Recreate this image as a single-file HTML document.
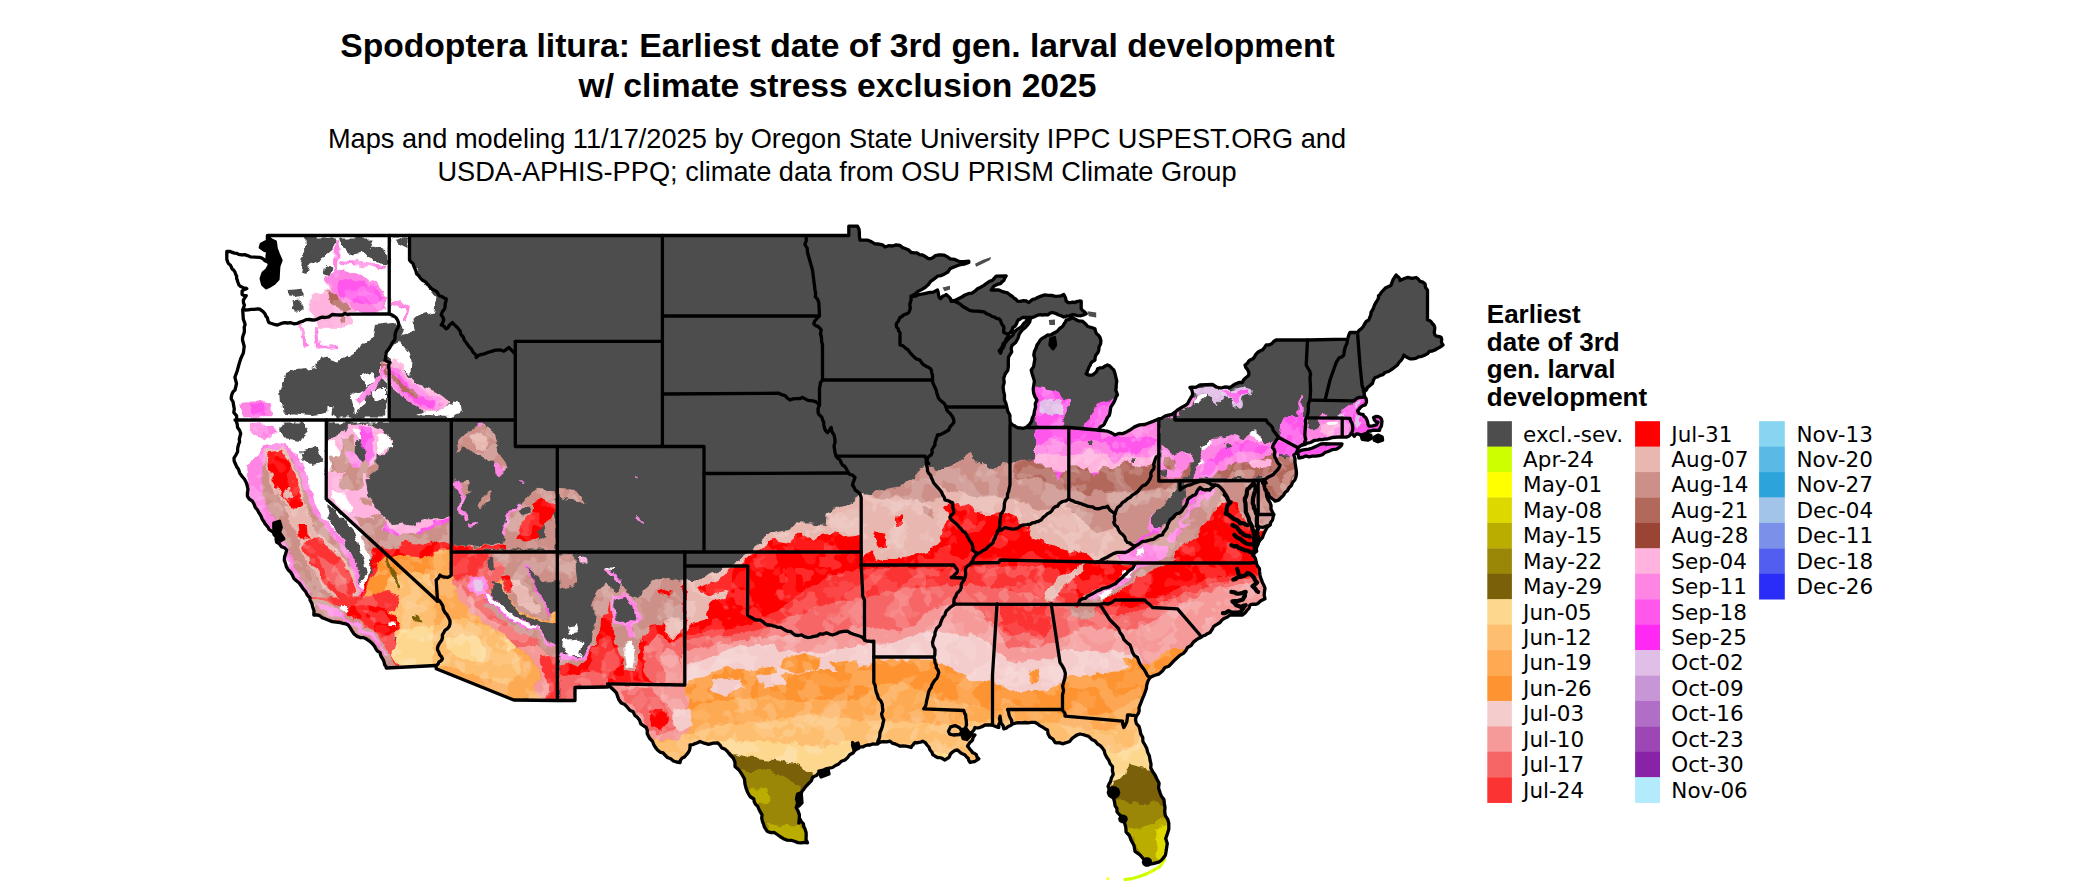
<!DOCTYPE html>
<html><head><meta charset="utf-8"><title>Spodoptera litura map</title>
<style>
html,body{margin:0;padding:0;background:#fff}
svg{display:block}
.t{font-family:"Liberation Sans",sans-serif;font-weight:bold;font-size:33.65px;text-anchor:middle;fill:#000}
.s{font-family:"Liberation Sans",sans-serif;font-size:27.19px;text-anchor:middle;fill:#000}
.lt{font-family:"Liberation Sans",sans-serif;font-weight:bold;font-size:26px;fill:#000}
.ll{font-family:"DejaVu Sans","Liberation Sans",sans-serif;font-size:21.5px;fill:#000}
.b{fill:none;stroke:#000;stroke-width:3.3;stroke-linejoin:round;stroke-linecap:round}
</style></head><body>
<svg width="2100" height="892" viewBox="0 0 2100 892">
<rect width="2100" height="892" fill="#fff"/>
<text class="t" x="837.5" y="56.6">Spodoptera litura: Earliest date of 3rd gen. larval development</text>
<text class="t" x="837.5" y="96.9">w/ climate stress exclusion 2025</text>
<text class="s" x="837" y="148.2">Maps and modeling 11/17/2025 by Oregon State University IPPC USPEST.ORG and</text>
<text class="s" x="837" y="180.7">USDA-APHIS-PPQ; climate data from OSU PRISM Climate Group</text>

<defs>
<clipPath id="us"><path d="M267.5 235.5 L848.8 235.5 L848.8 226.2 L857.5 226.2 L859.1 229.4 L859.4 233 L859.4 236.5 L860 240 L864 240.2 L867.9 240.2 L871.6 241.8 L875 243.8 L877.7 244 L880.4 244.3 L883 245.1 L885 247 L888.6 245.7 L892.5 246 L896.2 244.9 L900 245.5 L902.6 247.6 L905.7 248.8 L908.8 250.1 L911.2 252.5 L914.1 252.9 L917 252.9 L919.5 254.6 L922.5 255 L924.4 255.9 L926.2 257.1 L927.9 258.4 L930 258.8 L932.9 257.7 L935.2 255.6 L938.1 255 L941.2 255 L943.7 255.1 L946 256.1 L948.1 257.2 L950 258.8 L954.8 259.4 L959.2 261.5 L964 261.6 L968.8 261.2 L968.8 262.5 L964.1 264.1 L959.2 265 L954.5 266.8 L950 268.8 L947.9 272 L944.6 273.9 L941.2 275.6 L937.5 276.2 L934.2 278.9 L930.7 281.3 L928.2 284.7 L925 287.5 L921.5 289.6 L917.9 291.5 L914.8 294.2 L911.2 296.2 L913.5 296.3 L915.7 296 L917.8 295 L920 294.5 L924.4 293.6 L928.8 292.6 L933.4 292.1 L937.5 290 L938.2 292.2 L938.5 294.6 L939 296.9 L940.5 298.8 L941.7 297.4 L942.9 296.1 L944.7 295.5 L946.2 294.5 L947.8 295.9 L949.3 297.4 L950.7 299.1 L951.2 301.2 L955 300.4 L958.4 298.7 L961.8 297 L965 295 L968.3 293.7 L971.9 293.1 L974.9 291.2 L977.5 288.8 L980.8 287.2 L983.9 285.3 L986.9 283.2 L990 281.2 L992 280.6 L993.5 279.2 L994.9 277.7 L996.2 276.2 L1006.2 275.8 L1004.8 278 L1003.8 280.5 L1002 281.9 L1000.5 283.6 L998.3 284.1 L996.2 285 L994.5 285.7 L993.1 286.9 L992.3 288.5 L991.2 290 L998.8 290 L1001.6 291.3 L1004.5 292.2 L1007.6 292.9 L1010 295 L1012.2 296.2 L1013.8 298 L1016 299.2 L1017.5 301.2 L1020.4 301.3 L1023.3 300.6 L1026.2 301 L1028.8 302.5 L1030.7 300.9 L1032.8 299.4 L1035.3 298.9 L1037.5 297.5 L1041.1 296.1 L1044.8 294.9 L1048.6 295.3 L1052.5 295.5 L1055.3 296.3 L1058.2 296.1 L1061.2 295.8 L1063.8 294.5 L1064.7 296.1 L1065.4 297.7 L1065.9 299.4 L1066.2 301.2 L1068.2 302.5 L1070.5 302.7 L1072.7 302.2 L1075 302.5 L1076.4 301.7 L1078 301.3 L1079.6 301 L1081.2 301.2 L1081.2 308.8 L1082.4 310.1 L1083.7 311.3 L1085.1 312.4 L1086.2 313.8 L1083.5 314.9 L1080.8 315.8 L1077.8 315.6 L1075 315 L1072.1 314.7 L1069.4 315.8 L1066.5 316.1 L1063.8 317 L1061.1 315.7 L1058.2 314.7 L1055.4 313.3 L1052.5 312.5 L1049.9 313.2 L1047.8 314.9 L1045.1 314.6 L1042.5 315 L1039.9 314.7 L1037.3 315.3 L1034.9 316.5 L1032.5 317.5 L1022.5 317.5 L1020.4 318.9 L1018.2 320 L1017.1 322.1 L1016.3 324.3 L1014.9 326.3 L1012.8 327.5 L1012.4 329.4 L1011.4 331.1 L1010.2 332.7 L1008.5 333.8 L1007.9 336.7 L1006.2 339 L1005.2 341.8 L1003 343.8 L1002.7 345.8 L1001.7 347.5 L1000.6 349.1 L999.2 350.5 L1000.5 353.2 L1001.2 351.6 L1001.3 349.8 L1002.5 348.6 L1003.5 347.2 L1004.8 343.6 L1006.9 340.5 L1009.5 337.8 L1012.5 335.5 L1014.5 331.8 L1017.7 329.1 L1021.3 326.9 L1023.8 323.5 L1025.1 322.3 L1026.4 321.2 L1026.9 319.6 L1027.5 318 L1030.5 318 L1029.8 321.8 L1027.6 325 L1025 327.8 L1022 330.2 L1019.3 334 L1017.9 338.5 L1015.6 342.5 L1012 345.5 L1011.1 348.6 L1011.7 351.8 L1010.1 354.5 L1008.5 357.2 L1008.3 361.6 L1008.4 365.9 L1007.8 370.3 L1005.2 374 L1003.7 378.1 L1004.2 382.5 L1003.1 386.7 L1003.5 391 L1004.5 395.2 L1004.4 399.6 L1006 403.6 L1007 407.8 L1007.9 411.6 L1009.9 415 L1010 418.9 L1010.2 422.8 L1011.7 423.9 L1012.9 425.3 L1014.7 425.9 L1016.2 427 L1018.6 427.9 L1021.2 428 L1022.9 428.3 L1024.6 427.9 L1026.2 427.3 L1027.5 426.2 L1029.9 423.9 L1031.6 421.1 L1032.3 417.9 L1033.8 415 L1034.4 411.2 L1035.5 407.5 L1035.3 403.6 L1037 400 L1034.9 396.6 L1033.6 392.9 L1033.2 388.9 L1033.8 385 L1034.4 381.1 L1033.3 377.4 L1032.1 373.7 L1031.2 370 L1033.6 366.8 L1034.2 362.8 L1034.9 358.8 L1033.8 355 L1034.4 351.6 L1035.9 348.6 L1036.9 345.3 L1038.8 342.5 L1040.3 340 L1042.6 338.1 L1045.1 336.7 L1047.5 335 L1049.5 335.1 L1051.5 334.5 L1053.2 333.5 L1055 332.5 L1056.8 331.6 L1058.3 330.2 L1059.5 328.6 L1061.2 327.5 L1063 326 L1064 324 L1065.4 322.1 L1066.2 320 L1067.8 319.7 L1069.5 319.4 L1070.9 318.5 L1072.5 318 L1075 319 L1077.3 320.4 L1079.8 321.2 L1082.5 321.2 L1085.3 323.7 L1087.8 326.5 L1091.5 327.5 L1095 328.8 L1095.5 331.4 L1096.5 333.7 L1098.6 335.3 L1100 337.5 L1100.9 340.6 L1100.6 343.9 L1099.1 346.7 L1098.8 350 L1097.9 352.6 L1096.1 354.7 L1095.1 357.3 L1095 360 L1092.9 361.3 L1091 363 L1090.1 365.3 L1088.8 367.5 L1088.4 369.2 L1087.4 370.6 L1087.2 372.4 L1086.2 373.8 L1087.6 374.6 L1089.2 375.2 L1090.9 375.1 L1092.5 375 L1094.1 373.7 L1095.7 372.5 L1097 370.8 L1097.5 368.8 L1100.1 367.9 L1102.8 367.7 L1105 366.1 L1107.5 365 L1109.4 365.8 L1110.9 367.2 L1112.3 368.6 L1113.8 370 L1115 373.6 L1115.9 377.3 L1116.8 381.1 L1116.2 385 L1116.2 387.6 L1115.8 390.1 L1116.7 392.6 L1117.5 395 L1116.1 396.6 L1115.5 398.7 L1114.7 400.6 L1113.8 402.5 L1112.3 404.8 L1110.8 407.1 L1110.4 409.8 L1110 412.5 L1109.3 415.3 L1107.4 417.5 L1106.3 420 L1105 422.5 L1104.3 424.2 L1102.9 425.4 L1101.3 426.2 L1100 427.5 L1099 429 L1097.5 430 L1100 430.6 L1102.5 430.5 L1105 430.9 L1107.5 431.2 L1109.5 432 L1111.4 432.8 L1113.2 433.9 L1115 435 L1118.8 433.5 L1122.9 433.6 L1126.5 431.9 L1130 430 L1134.5 426.9 L1139.5 424.9 L1144.9 424.5 L1150 422.5 L1153.8 421.1 L1157.5 419.4 L1161.5 418.3 L1165 416.2 L1168.4 415.2 L1171.9 414.4 L1174.8 412.4 L1177.5 410 L1180 408.5 L1182.5 406.9 L1185.2 405.6 L1187.5 403.8 L1188.7 401.6 L1189.9 399.3 L1191.2 397.2 L1192.5 395 L1192.5 393 L1192.1 391 L1191.4 389 L1190 387.5 L1192.6 387.1 L1195.3 387.4 L1197.7 386.3 L1200 385 L1212.5 384.5 L1216.4 387 L1220.9 388 L1225.4 386.9 L1230 387.5 L1232.8 385.5 L1235.8 383.8 L1239 382.4 L1242.5 382.5 L1243.4 380.1 L1245.1 378.3 L1247.1 376.8 L1248.8 375 L1248.8 372.2 L1247.6 369.7 L1245.9 367.6 L1245 365 L1246.5 364 L1247.8 362.8 L1248.6 361.2 L1250 360 L1252.6 359 L1254.5 357 L1255.7 354.5 L1257.5 352.5 L1260 351 L1262.7 349.8 L1264.5 347.4 L1266.2 345 L1269.1 344.9 L1271.8 343.8 L1273.7 341.5 L1276.2 340 L1307.5 340 L1347.5 339.2 L1348.1 337.5 L1348.6 335.8 L1349.2 334.1 L1350 332.5 L1357.5 332.5 L1359.1 330.4 L1361.2 328.8 L1363.2 326.6 L1364.6 324 L1366.2 321.5 L1368.8 320 L1369.7 317.5 L1370.8 315.1 L1371 312.3 L1372.5 310 L1373.7 307.5 L1374.6 304.8 L1376 302.4 L1377.5 300 L1378.5 298 L1378.5 295.8 L1380.1 294.4 L1381.2 292.5 L1385.3 288.1 L1390.8 285.6 L1392.9 280 L1396.2 275 L1397.3 276.3 L1398.8 277.3 L1399.6 278.8 L1400 280.5 L1403.8 278.8 L1407.8 277.4 L1412 278.4 L1416.2 277.5 L1418.4 279.2 L1420.1 281.4 L1422.8 282.1 L1425 283.8 L1425.2 285.5 L1425.6 287.2 L1426.4 288.7 L1427.5 290 L1427.5 320 L1429.6 320.5 L1431.2 321.8 L1432.3 323.5 L1433.8 325 L1434.8 327.4 L1434.6 330 L1434.2 332.5 L1435 335 L1436.4 336 L1438 336.5 L1439.7 336.6 L1441.2 337.5 L1441.7 339.4 L1441.4 341.4 L1441.9 343.4 L1443 345 L1441.1 346.5 L1439.1 347.6 L1437 348.7 L1435 350 L1432.3 351 L1429.4 351.4 L1427.6 353.6 L1425 355 L1422 356.3 L1418.7 356.8 L1415.8 358.4 L1412.5 358.8 L1410 358.8 L1407.8 357.7 L1405.6 356.6 L1403.8 355 L1402.7 357.8 L1401.1 360.3 L1399 362.4 L1397.5 365 L1394.6 367.2 L1391.7 369.4 L1388.6 371.5 L1385 372.5 L1383 374.6 L1380.2 375.4 L1377.7 376.8 L1375 377.5 L1373.4 380.3 L1372.5 383.4 L1370 385.4 L1367.5 387.5 L1366.9 388.9 L1366.2 390.2 L1364.9 391.1 L1364.1 392.4 L1364.5 395.9 L1365.1 397.4 L1366.1 398.6 L1366.4 400.2 L1366.5 401.8 L1365.9 403.4 L1365.3 404.9 L1362.7 405.7 L1360.6 407.3 L1359.1 409.1 L1357.5 410.8 L1358.2 412.2 L1359 413.5 L1361 414.1 L1363 414.3 L1363.9 416.2 L1365.7 417.5 L1366.9 419.8 L1367.7 422.2 L1368 424.3 L1368.9 426.1 L1370.8 426.1 L1372.7 425.9 L1374.5 425.3 L1376.3 424.9 L1377 423.5 L1377.9 422.2 L1375.8 421.4 L1374.3 419.8 L1373.6 417.5 L1376.3 416.3 L1378.4 416.6 L1380.2 417.6 L1381.5 419.3 L1382 421.4 L1381.4 426.1 L1380.1 428.1 L1379.4 430.4 L1373.2 430.2 L1370.9 431 L1368.5 431.2 L1367.1 432.8 L1365.3 433.9 L1363.1 435 L1360.6 435.1 L1358.8 434.2 L1356.7 433.9 L1355.3 434.9 L1354.3 436.3 L1352.9 434.6 L1351.2 433.2 L1350.2 434.9 L1348.8 436.3 L1346.9 437 L1344.9 437.1 L1340.2 436.9 L1332.4 437.5 L1330.5 438.1 L1328.5 438.7 L1326.5 439.2 L1324.5 439 L1322.8 439.6 L1321 439.7 L1319.2 439.5 L1317.5 440.2 L1314.6 440.3 L1312 441.8 L1310.5 442.5 L1308.8 442.9 L1307.1 443.1 L1305.7 444.1 L1303.4 444.9 L1301 445.3 L1299.9 446.4 L1298.6 447.3 L1297.5 450 L1297 451.5 L1296.3 453 L1295.1 454 L1293.8 455 L1295 458.7 L1295 462.5 L1295.6 466.3 L1296.2 470 L1296.5 473.4 L1296 476.7 L1294.8 480 L1292.5 482.5 L1291.4 485.5 L1289 487.7 L1287.6 490.6 L1285 492.5 L1283.9 494.7 L1282.3 496.6 L1280.5 498.2 L1278.8 500 L1276.9 500.6 L1275 501.2 L1274 500 L1272.7 499 L1271.5 498.1 L1270 497.5 L1269 495.4 L1268.2 493.3 L1266.5 491.8 L1265 490 L1264.5 488.1 L1264.6 486.2 L1263.8 484.5 L1262.5 483 L1263.7 484.6 L1264.1 486.6 L1264.9 488.5 L1266.2 490 L1266.3 493.3 L1266.8 496.6 L1268.1 499.8 L1270 502.5 L1271.1 505.6 L1270.9 508.8 L1272.3 511.7 L1273.8 514.5 L1273.1 517.2 L1272.5 520 L1270.8 522.3 L1270 525 L1267.1 527.4 L1265.3 530.7 L1263.7 534 L1262.5 537.5 L1260 540.1 L1258.1 543.1 L1256.8 546.5 L1256.2 550 L1254.7 551.2 L1253 552 L1252.5 555 L1254.2 556.4 L1255.3 558.3 L1255.9 560.4 L1256.2 562.5 L1257.3 565.7 L1259.4 568.4 L1259.6 571.7 L1260 575 L1260.6 577.6 L1261.6 580.1 L1262.5 582.7 L1263.8 585 L1265 588.4 L1264.4 591.9 L1264.2 595.4 L1265 598.8 L1263 599.8 L1260.9 600.8 L1259.2 602.3 L1257.5 603.8 L1255.6 604.4 L1253.7 604.1 L1251.8 604.3 L1250 605 L1249.1 608.1 L1246.9 610.5 L1245 613 L1242.5 615 L1230 615 L1227.5 617 L1224.6 618.2 L1222 620 L1220 622.5 L1216.9 624.4 L1213.8 626.3 L1212.1 629.5 L1210 632.5 L1207.4 633.7 L1205 635.3 L1202.3 636.3 L1200 638 L1200 637.5 L1196.6 639.6 L1193.4 642.1 L1191.1 645.5 L1187.5 647.5 L1185.8 650.7 L1183.4 653.4 L1180.2 655.1 L1177.5 657.5 L1174.5 660.2 L1171.8 663.1 L1168.9 666.2 L1165 667.5 L1162.2 671.2 L1158.6 674.2 L1154.2 675.5 L1150 677.5 L1148 681 L1146.8 684.8 L1146.3 688.7 L1145 692.5 L1143.8 695.6 L1142.4 698.7 L1141.3 701.9 L1140 705 L1139 707.9 L1139.2 711 L1138.1 713.8 L1136.2 716.2 L1135.5 719.9 L1136.4 723.6 L1139 726.3 L1140 730 L1140.7 733.9 L1142.7 737.4 L1142.9 741.5 L1145 745 L1146.8 748.6 L1147.7 752.4 L1149.4 756 L1150 760 L1151 764 L1150.8 768.1 L1152.7 771.6 L1155 775 L1157 779.2 L1159.1 783.3 L1158.5 788 L1160 792.5 L1161.4 796.3 L1163.9 799.5 L1164.4 803.5 L1165 807.5 L1164.7 811.6 L1165.3 815.6 L1167.6 819.1 L1168.8 823 L1168.8 829.2 L1167.3 833.9 L1165.7 838.6 L1167.3 843.5 L1166.5 848.5 L1166 851.8 L1165.4 855.2 L1163.4 857.9 L1161.2 860.5 L1158.7 862.2 L1155.8 862.8 L1152.9 863.6 L1150 864 L1148.5 863.4 L1147.2 862.5 L1145.9 860.7 L1144 859.5 L1140 854.9 L1135 851.4 L1134 845.4 L1131 840 L1129.4 835.5 L1126.1 832 L1125.8 827.3 L1124.5 822.8 L1122.9 819.9 L1121.9 816.6 L1119.3 814.5 L1117 812 L1116.9 808.5 L1115 805.6 L1114.6 802.3 L1113.8 799 L1112.9 797.2 L1112.2 795.3 L1111.5 793.5 L1111.2 791.5 L1109.9 790.7 L1109 789.4 L1108.8 787.8 L1108 786.5 L1109 784 L1110.5 781.8 L1111.4 777.9 L1113.2 774.4 L1112.4 770.5 L1112.5 766.5 L1110.1 763.7 L1108.8 760.2 L1106.7 757.2 L1105 754 L1104.3 750.8 L1102.4 748.1 L1100.3 745.7 L1097.5 744 L1095 740.9 L1091.5 739.2 L1088.7 736.4 L1085 735.2 L1082.5 734.5 L1080 734 L1077.4 734.8 L1075 736.2 L1072 738.5 L1069.6 741.5 L1066.1 742.7 L1062.5 743.8 L1060.7 743.1 L1058.8 742.7 L1056.9 742.8 L1055 742.5 L1053 739.2 L1049.8 737.1 L1048 733.8 L1047.5 730 L1044.9 728.7 L1042.5 727 L1039.8 725.6 L1037.5 723.8 L1034.6 722.3 L1031.3 722.4 L1028.2 722.8 L1025 722.5 L1021.9 722.9 L1018.7 722.6 L1015.6 723.1 L1012.5 723.8 L1010.6 725.5 L1008.3 726.5 L1006.2 728.1 L1003.8 728.8 L1003 725.5 L1000.9 722.8 L1000.5 719.5 L1000 716.2 L999.5 719.1 L1000.2 721.9 L998.8 724.5 L998.8 727.5 L997.1 727.2 L995.6 726.3 L994 725.9 L992.5 725 L985 725 L982.7 726.4 L980.3 727.3 L977.7 728 L975 727.5 L974 729.7 L972.4 731.7 L970.5 733.3 L968.8 735 L975 735 L973.2 737.2 L972.5 740 L971.1 741.5 L969.6 742.8 L968.6 744.5 L967.5 746.2 L968.8 747.7 L970 749.4 L971.4 750.8 L972.5 752.5 L974.6 753.5 L976.4 754.9 L977.1 757.2 L978.8 758.8 L976.8 760.1 L974.8 761.5 L972.3 761.8 L970 762.5 L968.8 760.5 L968.2 758.3 L966.4 756.8 L965 755 L962.9 754.1 L960.9 753 L959.2 751.5 L957.5 750 L955.2 750.4 L953.2 751.6 L951.3 753 L950 755 L949.4 756.8 L948.1 758.1 L946.5 758.9 L945 760 L943.2 759 L941.5 758 L939.5 757.6 L937.5 757.5 L935.1 756.2 L932.8 754.7 L931.9 752.1 L930 750 L929 747.2 L927 745 L925.2 742.5 L922.5 741.2 L920.8 742.1 L918.8 742.3 L916.9 742.8 L915 742.5 L913.9 743.6 L913.1 745 L911.8 746 L911.2 747.5 L908.5 746.6 L905.7 746.2 L902.8 745.8 L900 746.2 L897.5 744.9 L894.9 743.8 L892.2 743.1 L890 741.2 L886.8 741.8 L883.6 741.6 L880.3 742 L877.5 743.8 L875 744.2 L872.5 744 L870.1 745 L867.5 745 L865 745.8 L862.7 746.9 L860 746.9 L857.5 747.5 L855.8 746.8 L854.5 745.5 L853.5 744 L852.5 742.5 L853.2 744.4 L853.6 746.3 L854.6 748.1 L855 750 L853 753 L849.7 754.7 L847.6 757.6 L845 760 L841.5 761.2 L838.8 763.9 L835.5 765.5 L832.5 767.5 L829.1 768.2 L825.8 768.8 L823.1 771 L820 772.5 L817.9 773.6 L816.6 775.5 L814.4 776.3 L812.5 777.5 L811.5 780.6 L809.3 782.9 L807.1 785.2 L805 787.5 L803.7 789.3 L802.2 791 L801.3 793.1 L800 795 L798.1 797.8 L797.6 801.1 L797.3 804.4 L796.2 807.5 L798.1 811.1 L799.4 814.9 L799.3 819 L798.8 823 L799.6 821.1 L800 819 L801.3 821.6 L803.3 823.6 L803.8 826.4 L805 829 L806.1 832.4 L806.2 835.9 L806 839.5 L807.5 842.8 L804.3 842.3 L801.2 842.8 L798 842.6 L795 841.5 L791.2 840.3 L787.1 840.1 L783.4 838.7 L780 836.5 L777.2 834.5 L774.3 832.5 L770.8 832.6 L767.5 831.5 L765.8 829.2 L764.3 826.9 L763.6 824.1 L762.5 821.5 L761.7 818.2 L762.1 814.8 L760.3 812 L758.8 809 L757.7 806.3 L755.6 804.4 L754.2 801.8 L753.8 799 L750 796.5 L747.7 792.5 L746.1 788.3 L745 784 L744.4 778.8 L741.8 774.2 L738.9 769.9 L735 766.5 L735 762.1 L733.2 758 L730.1 755 L727.5 751.5 L725 749.1 L721.8 748 L720 745.1 L717.5 742.8 L713 743.2 L708.6 744.3 L704.2 743.2 L700 741.5 L697.6 742.8 L695.1 743.6 L692.7 744.7 L690 745 L690 747.8 L689.4 750.5 L688 752.9 L686.2 755 L684.5 756.9 L682.2 758 L680.6 760 L680 762.5 L676.6 762 L673.4 761 L670.7 758.7 L667.5 757.5 L665.2 755.3 L663.1 752.9 L660 752.1 L657.5 750 L655.4 747.4 L653.7 744.5 L652.5 741.2 L650 738.8 L648.4 736.2 L647.2 733.5 L647.3 730.4 L646.2 727.5 L643.3 725.7 L640.6 723.6 L639.6 720.3 L637.5 717.5 L634.7 715.2 L633.2 711.8 L629.8 710.3 L627.5 707.5 L624.9 704.6 L621.2 703 L618.9 699.8 L617.5 696.2 L616.5 693.1 L614.4 690.7 L612 688.6 L610 686.2 L607.5 687 L575 687.5 L575 700.5 L557 700.5 L513.8 700 L436.2 668.8 L436.2 665.5 L386.2 668 L385.8 666.2 L384.6 664.7 L384.3 662.9 L383.8 661.2 L382.8 659 L381.4 657.1 L380.5 654.9 L380 652.5 L377.4 651.1 L375.7 648.6 L374.4 646 L372.5 643.8 L369.9 641.4 L366.9 639.3 L363.7 637.6 L360 637.5 L356.6 636.1 L353.8 633.7 L351.8 630.6 L350 627.5 L348.2 625.1 L345.6 623.8 L342.8 623.3 L340 622.5 L336.1 622.2 L332.3 621.6 L328.6 620.2 L325 618.8 L322.2 617.7 L319.8 615.7 L316.9 614.9 L313.8 615 L314 611.1 L312.8 607.3 L311.9 603.4 L310 600 L310 597.5 L309.1 597.2 L307 594.5 L305.5 591.4 L303.2 588.9 L301.3 586 L299.2 583 L296.4 580.7 L293.7 578.2 L292.3 574.8 L290.5 572 L288.1 569.7 L286.4 566.8 L285.6 563.6 L284.3 560.3 L284.6 556.7 L285.8 553.4 L286.7 550.1 L284.4 547.7 L281.3 546.6 L279.4 543.9 L276.6 542.2 L276.1 539.5 L276.2 536.8 L274.2 534.8 L273.2 532.2 L271.2 530.9 L269.1 529.5 L268 527.3 L266.5 525.4 L265.1 523.9 L264.2 522.1 L263 520.5 L262 518.7 L260.8 515.7 L259 512.9 L257.5 510 L255.3 507.5 L254.1 504.2 L252.4 501.2 L249.4 499.2 L247.4 496.3 L247.4 492.8 L248 489.5 L247.3 486.1 L246.3 482.8 L244.5 479.3 L242 476.3 L239.7 473.1 L238.5 469.3 L236.7 466.8 L235.5 464 L234.2 461.2 L234 458.1 L235.9 455 L237.6 451.8 L237.7 448.2 L238.5 444.7 L239.6 442 L239.3 439 L240 436.3 L240.7 433.5 L239.6 430.3 L237.6 427.6 L237.2 424.3 L236.2 421.1 L237.5 420 L236.6 418 L236.6 415.8 L235.2 414.2 L233.8 412.5 L234.3 409 L233.6 405.4 L233.1 401.9 L231.2 398.8 L231.4 396.3 L232 393.9 L233.1 391.7 L235 390 L236.5 383.6 L234.9 377.2 L237.1 371.2 L238.8 365 L240.7 358.8 L243.4 352.9 L244.2 346.4 L242.5 340 L242.6 337.4 L243.3 335 L244.2 332.6 L244.4 330 L244.2 327.2 L245.1 324.5 L244.3 321.8 L243.3 319.2 L242.7 309.8 L243.7 307.5 L244.4 305.1 L243.5 302.8 L243.3 300.4 L244.6 298 L246.2 295.7 L244 295.5 L242.1 294.5 L242.1 291 L244.3 289.4 L246.8 288.6 L245.1 288.1 L243.4 287.8 L241.9 286.9 L240.3 286.2 L239 285.1 L238.4 283.5 L237.8 282 L237.4 280.4 L236.6 278.3 L236.6 276.1 L235.6 274.2 L235 272.1 L233.8 270.3 L232.1 268.9 L231.3 266.9 L230.3 265 L228.8 264 L227.9 262.5 L227.3 260.9 L226.8 259.2 L226.8 251.5 L230.3 251.5 L232.3 252.4 L234.4 253.1 L236.6 253.3 L238.6 254.4 L241.6 254.8 L244.7 254.6 L247.5 255.6 L250.3 256.8 L259.8 257.4 L261.7 258 L263.5 259.1 L264.9 260.7 L266.8 261.5 L267 258.6 L267.1 255.7 L267.6 252.8 L268.5 250 L268.7 246.3 L267.6 242.8 L268.5 239.2 L267.4 235.6Z M1297.5 452.5 L1300.9 450.4 L1304.8 449.6 L1308.7 449.1 L1312.5 448 L1316.7 446.1 L1320.8 444 L1325.4 443.6 L1330 443.8 L1342 443.8 L1341.3 445.5 L1340 446.8 L1336.6 449.1 L1332.5 449.6 L1328.8 451.2 L1325 452.5 L1322.4 454.7 L1319.2 455.7 L1315.8 456.1 L1312.5 456.2 L1309 456.8 L1305.5 455.9 L1302.3 457.4 L1298.8 458 L1298.3 455.2Z"/></clipPath>
<filter id="r" x="150" y="200" width="1350" height="692" filterUnits="userSpaceOnUse" color-interpolation-filters="sRGB"><feTurbulence type="fractalNoise" baseFrequency="0.09" numOctaves="3" seed="4" result="n"/><feDisplacementMap in="SourceGraphic" in2="n" scale="9" xChannelSelector="R" yChannelSelector="G"/></filter>
<filter id="rm" x="150" y="200" width="1350" height="692" filterUnits="userSpaceOnUse" color-interpolation-filters="sRGB"><feTurbulence type="fractalNoise" baseFrequency="0.09" numOctaves="3" seed="4" result="n"/><feDisplacementMap in="SourceGraphic" in2="n" scale="9" xChannelSelector="R" yChannelSelector="G" result="d"/>
<feTurbulence type="fractalNoise" baseFrequency="0.045" numOctaves="3" seed="21" result="n2"/>
<feColorMatrix in="n2" type="matrix" values="0 0 0 0 1  0 0 0 0 1  0 0 0 0 1  30 0 0 0 -16.2" result="m1"/>
<feComponentTransfer in="m1" result="m2"><feFuncA type="linear" slope="0.17"/></feComponentTransfer>
<feComposite in="m2" in2="d" operator="in" result="ov"/>
<feColorMatrix in="n2" type="matrix" values="0 0 0 0 1  0 0 0 0 1  0 0 0 0 1  0 30 0 0 -17.4" result="k1"/>
<feComponentTransfer in="k1" result="k2"><feFuncA type="linear" slope="0.1"/></feComponentTransfer>
<feComposite in="k2" in2="d" operator="in" result="ov2"/>
<feMerge><feMergeNode in="d"/><feMergeNode in="ov"/><feMergeNode in="ov2"/></feMerge></filter>
</defs>
<g clip-path="url(#us)"><rect x="150" y="200" width="1350" height="692" fill="#4D4D4D"/><g>
</g>
<g filter="url(#rm)">
<path fill="#FF57EC" d="M1010 462.5 L1015 461.2 L1018.8 476.2 L1025 476.2 L1026.2 465 L1035 457.5 L1035 425 L1028.8 385 L1046.2 388.2 L1057.5 393 L1063 398.8 L1073 400.5 L1071.2 406.2 L1065 412.5 L1062.5 426.2 L1082.5 427 L1087.5 420 L1092.5 412.5 L1097.5 405 L1107.5 400.5 L1122.5 401.2 L1125 425 L1158.8 410 L1158.8 490 L1010 490Z"/>
<path fill="#E1BEE7" d="M1040.5 401.2 L1050 398.8 L1061.2 401.2 L1062.5 412.5 L1050 415 L1040.5 411.2Z"/>
<path fill="#FF85E5" d="M1035 445 L1050 440 L1068.8 445 L1087.5 437.5 L1105 442.5 L1115 452.5 L1130 445 L1150 447.5 L1158.8 440 L1158.8 470 L1035 470Z"/>
<path fill="#FFB3DE" d="M1035 455 L1050 452.5 L1068.8 457.5 L1087.5 450 L1105 455 L1115 461.2 L1130 455 L1150 457.5 L1158.8 452.5 L1158.8 472.5 L1035 472.5Z"/>
<path fill="#FF57EC" d="M1107.5 435 L1135 430 L1150 440 L1137.5 455 L1115 450Z"/>
</g>
<g filter="url(#r)">
<path fill="#4D4D4D" d="M1015 427.5 L1035 427.5 L1035 457.5 L1015 461.2Z"/>
<path fill="#4D4D4D" d="M1088.8 438.8 L1093.8 440 L1092.5 447.5 L1088.8 446.2Z"/>
<path fill="#4D4D4D" d="M1131.2 457.5 L1135 457.5 L1135 462.5 L1131.2 462.5Z"/>
</g>
<g filter="url(#rm)">
<path fill="#E8B8B0" d="M681.5 580.5 L688.2 580.5 L696.6 582.1 L703.3 578.8 L710 573.7 L720.1 569.5 L730.2 566 L735 561 L743.7 555.2 L759.2 544.3 L767.6 534.2 L777.7 530.8 L791.2 529.1 L796.2 522.4 L811.4 522.4 L824.8 524.1 L825.7 514 L838.3 507.3 L848.4 503.9 L858.5 497.2 L861.8 493.8 L875.3 495.5 L878.6 492.1 L895.5 488.8 L902.2 483.7 L915.6 480.4 L922.4 468.6 L925.7 461.9 L929.1 466.9 L942.5 468.6 L959.4 461.9 L967.8 453.5 L976.2 463.5 L989.6 468.6 L1010 463.5 L1015 461.2 L1018.8 477.5 L1035 477.5 L1050 480 L1068.8 485 L1087.5 490 L1112.5 490 L1137.5 490 L1158.8 481 L1175 481 L1180 481 L1220 480.5 L1262.5 481.2 L1280 465 L1297.5 450 L1305 450 L1345 450 L1345 900 L681.5 900Z"/>
<path fill="#CC9088" d="M920 470 L922.4 468.6 L925.7 461.9 L929.1 466.9 L942.5 468.6 L959.4 461.9 L967.8 453.5 L976.2 463.5 L989.6 468.6 L1010 463.5 L1015 461.2 L1018.8 477.5 L1035 477.5 L1050 480 L1068.8 485 L1087.5 490 L1112.5 490 L1137.5 490 L1158.8 481 L1175 481 L1180 481 L1220 480.5 L1262.5 481.2 L1275 472.5 L1280 465 L1278.8 500 L1260 515 L1250 520 L1240 515 L1232.5 501.2 L1222.5 497.5 L1213.8 511.2 L1208.8 521.2 L1202.5 526.2 L1197.5 537.5 L1186.2 545 L1175 552 L1170 563 L1132.5 565 L1125 560 L1135 546.2 L1127.5 542.5 L1120 532.5 L1113.8 522.5 L1115 513.8 L1107.5 506.2 L1097.5 508.8 L1087.5 506.2 L1077.5 502.5 L1068.8 498.8 L1057.5 506.2 L1045 510 L1032.5 507.5 L1020 502.5 L1010 497.5 L1000 497.5 L987.5 495 L975 497.5 L962.5 492.5 L950 490 L942.5 487.5 L932.5 480 L927.5 475Z"/>
<path fill="#CC9088" d="M1070 501.2 L1087.5 507.5 L1107.5 507.5 L1113.8 515 L1112.5 527.5 L1100 532.5 L1085 525 L1075 515 L1067.5 507.5Z"/>
<path fill="#CC9088" d="M873.6 492.1 L878.6 490.5 L895.5 487.1 L912.3 479.5 L922.4 468.6 L927.4 463.5 L932.5 473.6 L944.2 495.5 L935.8 498.9 L922.4 503.9 L908.9 498 L895.5 496.3 L882 499.7 L876.1 497.2Z"/>
<path fill="#CC9088" d="M922.5 507.5 L932.5 510 L932.5 517.5 L923.8 516.2Z"/>
<path fill="#B3685C" d="M1012.5 478.8 L1016.2 460 L1033.8 459.5 L1038.8 465.5 L1050 465.5 L1057.5 478 L1062.5 475.5 L1068.8 465.5 L1075 464.2 L1082.5 469.2 L1090 466.8 L1095 478 L1102.5 468 L1115 469.2 L1125 460.5 L1137.5 468 L1150 464.2 L1158.8 460.5 L1165 455 L1175 456.2 L1187.5 452.5 L1192.5 465 L1187.5 477.5 L1175 480.5 L1170 490 L1160 487.5 L1150 490 L1137.5 495 L1125 490 L1112.5 492.5 L1100 490 L1087.5 495 L1075 487.5 L1068.8 490 L1057.5 487.5 L1045 480.5 L1032.5 478 L1020 480.5Z"/>
<path fill="#FF0000" d="M681 584 L700 583 L715 575 L730 569 L737 565 L746 559 L758 551 L775 540 L787.5 542.5 L800 532.5 L812.5 540 L822.5 535 L835 532.5 L845 537.5 L860 535 L862 557 L870 550 L875 560 L900 557.5 L915 555 L930 550 L940 540 L945 525 L950 515 L945 507.5 L950 502.5 L960 507.5 L970 503.75 L975 512.5 L990 515 L1002.5 512.5 L1010 515 L1016.8 517.5 L1025.2 527.6 L1033.6 537.7 L1047.1 544.4 L1058.9 547.8 L1070.6 554.5 L1080.7 551.2 L1094.2 557.9 L1100 563 L1130 563 L1150 563 L1169.8 561.2 L1174.9 551.2 L1185 544.4 L1196.7 537.7 L1201.8 527.6 L1208.5 520.9 L1213.6 510.8 L1222 502.4 L1230.4 500.7 L1235.4 507.4 L1242.1 514.2 L1250 525 L1260 532 L1290 532 L1330 532 L1330 900 L681 900Z"/>
<path fill="#FB3333" d="M600 690 L640 680 L685 636 L705 632 L735 627 L750 624 L770 616 L790 602 L810 586 L830 576 L861 570 L900 566 L940 570 L965 567.5 L1010 566 L1050 566 L1085 590 L1110 605 L1125 607.5 L1150 600 L1175 590 L1200 581 L1225 576 L1250 575 L1290 575 L1330 575 L1330 900 L600 900Z"/>
<path fill="#F66666" d="M600 700 L640 690 L685 642 L705 638 L735 634 L750 632 L770 626 L790 616 L810 609 L830 604 L861 598 L900 590 L940 585 L975 585 L1010 590 L1050 600 L1085 610 L1110 615 L1125 615 L1150 607.5 L1175 597.5 L1200 590 L1220 582.5 L1240 580 L1290 580 L1330 580 L1330 900 L600 900Z"/>
<path fill="#F59999" d="M600 710 L640 700 L682.5 650 L712.5 645 L750 640 L775 636 L780 636 L820 637 L861 625 L900 632.5 L940 605 L975 605 L1010 647.5 L1050 645 L1085 627.5 L1110 630 L1125 630 L1150 622.5 L1170 610 L1187.5 600 L1205 592.5 L1220 587.5 L1240 585 L1290 585 L1330 585 L1330 900 L600 900Z"/>
<path fill="#F4CCCC" d="M600 720 L640 712 L685 665 L700 662.5 L725 650 L750 645 L775 645 L780 650 L820 652.5 L861 645 L900 642.5 L915 632.5 L940 632.5 L975 635 L992.5 645 L1010 662.5 L1050 660 L1065 650 L1085 650 L1110 652.5 L1140 655 L1150 675 L1160 700 L1200 700 L1200 900 L600 900Z"/>
<path fill="#FD9431" d="M640 730 L660 705 L675 695 L690 682.5 L710 672.5 L725 667.5 L750 670 L775 665 L780 675 L820 670 L861 670 L875 658.75 L930 658.75 L940 662.5 L975 682.5 L992.5 680 L1010 692.5 L1050 690 L1065 677.5 L1085 675 L1110 672.5 L1135 667.5 L1150 662 L1170 650 L1210 650 L1210 900 L640 900Z"/>
<path fill="#FDAA52" d="M645 745 L662.5 730 L675 720 L700 705 L725 700 L750 697.5 L775 697.5 L780 700 L820 700 L861 700 L875 685 L900 682.5 L930 695 L940 700 L975 707.5 L992.5 710 L1050 710 L1065 715 L1085 717.5 L1110 712.5 L1135 700 L1142 695 L1170 690 L1210 690 L1210 900 L645 900Z"/>
<path fill="#FDBF6F" d="M645 755 L657.5 747.5 L675 740 L700 730 L725 725 L750 722.5 L775 720 L780 717.5 L820 716 L861 720 L880 721 L930 724 L950 726 L975 722 L992.5 720 L1050 722.5 L1065 725 L1085 730 L1110 730 L1135 715 L1141 707.5 L1170 700 L1210 700 L1210 900 L645 900Z"/>
<path fill="#FDD78D" d="M655 765 L667.5 756 L690 747.5 L712.5 742.5 L737.5 741 L775 742.5 L800 745 L825 747.5 L840 741.5 L855 741.5 L861 745 L900 750 L950 754 L975 762 L1090 762 L1097.5 744 L1110 752 L1125 750 L1137.5 744 L1145 732 L1170 725 L1210 725 L1210 900 L655 900Z"/>
</g>
<g filter="url(#r)">
<path fill="#7A6008" d="M715 760 L725 750 L730 752.5 L750 757.5 L775 760 L800 765 L812.5 775 L815 800 L1100 800 L1108 790 L1112.5 779 L1125 776.5 L1127.5 764 L1140 766.5 L1150 769 L1157.5 779 L1165 790 L1180 790 L1220 790 L1220 900 L715 900Z"/>
<path fill="#9A8708" d="M728 770 L735 769 L750 771.5 L762.5 769 L775 774 L787.5 779 L800 786.5 L803.75 794 L806 830 L1100 830 L1108 805 L1115 801.5 L1125 799 L1140 804 L1150 804 L1157.5 799 L1162.5 804 L1180 805 L1220 805 L1220 900 L728 900Z"/>
<path fill="#BBAD00" d="M750 789 L767.5 787.8 L768.8 804 L752.5 805.2Z"/>
<path fill="#BBAD00" d="M767.5 822.8 L782.5 825.2 L800 824 L806.2 831.5 L808.8 844 L795 842.8 L780 837.8 L768.8 832.8Z"/>
<path fill="#BBAD00" d="M1122.5 824 L1137.5 829 L1150 824 L1162.5 819 L1170 821.5 L1170 839 L1166.2 852.8 L1161.2 864 L1150 866.5 L1142.5 862.8 L1138.8 849 L1131.2 835.2Z"/>
<path fill="#DDD900" d="M1156.2 829 L1168 822.8 L1170.5 834 L1166.5 851.5 L1161.5 862 L1155.5 855.2 L1158 844Z"/>
</g>
<g filter="url(#rm)">
<path fill="#FB3333" d="M1000 605 L1050 605 L1052.5 625 L1040 640 L1025 632.5 L1010 637.5 L1000 625Z"/>
<path fill="#F59999" d="M610 686.2 L682.5 685 L690 700 L685 717.5 L690 730 L680 740 L660 740 L650 738.8 L646.2 727.5 L637.5 717.5 L627.5 707.5 L617.5 696.2Z"/>
<path fill="#F66666" d="M620 690 L650 687.5 L667.5 705 L675 725 L662.5 735 L650 730 L640 715 L627.5 702.5Z"/>
<path fill="#FF0000" d="M650 710 L662.5 707.5 L670 720 L662.5 730 L652.5 725Z"/>
<path fill="#F4CCCC" d="M672.5 710 L690 707.5 L692.5 725 L680 732.5 L672.5 725Z"/>
<path fill="#FDBF6F" d="M650 740 L660 741.2 L685 740 L690 746.2 L686.2 756.2 L680 763.8 L667.5 758.8 L657.5 751.2Z"/>
<path fill="#E8B8B0" d="M685.7 580.5 L703.3 578.8 L710 573.7 L730.2 567.8 L728.5 572 L718.5 578.8 L708.4 583.8 L696.6 588.9 L710 593.9 L728.5 590.5 L728.5 597.3 L710 602.3 L706.7 610.7 L708.4 617.5 L691.5 624.2 L685.7 630.9Z"/>
<path fill="#FF0000" d="M875 531.2 L885 532.5 L887.5 547.5 L877.5 548.8Z"/>
<path fill="#FF0000" d="M895 517.5 L903 517.5 L903 525 L895 525Z"/>
<path fill="#E8B8B0" d="M1045 601.2 L1047.5 590 L1055 580 L1067.5 572.5 L1080 565 L1087.5 562.5 L1085 568 L1075 575.5 L1065 585.5 L1057.5 595.5 L1052.5 602.5Z"/>
<path fill="#FF0000" d="M1085 565 L1130 564.5 L1125 572.5 L1115 580 L1100 587.5 L1087.5 593.8 L1080 598.8 L1075 590 L1080 577.5Z"/>
<path fill="#CC9088" d="M1075 607.5 L1085 596.2 L1100 588.8 L1115 581.2 L1127.5 571.2 L1135 563 L1150 555 L1165 547.5 L1175 558.8 L1160 566.2 L1145 573.8 L1130 583.8 L1115 593.8 L1100 601.2 L1085 607.5 L1080 615 L1070 615Z"/>
<path fill="#FF85E5" d="M1087.5 598.8 L1100 591.2 L1115 583.8 L1127.5 573.8 L1137.5 565 L1150 558.8 L1165 552.5 L1167.5 556.2 L1150 563.8 L1135 571.2 L1120 585 L1105 595 L1092.5 601.2Z"/>
</g>
<g filter="url(#r)">
<path fill="#FFFFFF" d="M1100 595.5 L1107.5 590 L1112 590.5 L1108.8 595.5 L1102 599Z"/>
<path fill="#FFFFFF" d="M1123.8 573 L1130 568 L1134 569 L1129.5 575 L1125 577Z"/>
<path fill="#FFFFFF" d="M1135 552.5 L1142 549.5 L1147 552 L1143.8 557 L1136.5 558Z"/>
</g>
<g filter="url(#rm)">
<path fill="#FF57EC" d="M1115 555 L1132.5 545 L1150 532.5 L1162.5 525 L1175 515 L1187.5 497.5 L1200 487.5 L1205 490 L1192.5 502.5 L1180 520 L1167.5 530 L1152.5 540 L1137.5 550 L1122.5 560Z"/>
<path fill="#CC9088" d="M1127.5 551.2 L1145 540 L1160 530 L1172.5 520 L1185 502.5 L1190 505 L1177.5 522.5 L1165 532.5 L1150 542.5 L1132.5 553.8Z"/>
</g>
<g filter="url(#r)">
<path fill="#4D4D4D" d="M1152.5 525 L1160 515 L1170 507.5 L1175 497.5 L1177.5 487.5 L1185 487.5 L1186.2 497.5 L1180 510 L1172.5 520 L1162.5 527.5Z"/>
<path fill="#4D4D4D" d="M1178.8 481 L1186.2 481 L1185 487.5 L1179.5 492.5Z"/>
</g>
<g filter="url(#rm)">
<path fill="#FF85E5" d="M1178.2 524.3 L1190 507.4 L1201.8 494 L1211.9 487.3 L1216.1 490.6 L1206 501.6 L1194.2 515 L1184.1 530.1Z"/>
<path fill="#CC9088" d="M1183.3 520.9 L1193.4 508.3 L1204.3 496.5 L1207.2 499 L1196.7 511.6 L1186.3 525.1Z"/>
<path fill="#FF85E5" d="M1164.8 537.7 L1178.2 527.6 L1183.3 531.8 L1169.8 543.6Z"/>
<path fill="#FF85E5" d="M1146.3 527.6 L1153 514.2 L1161.4 507.4 L1166.5 510.8 L1158.1 520.9 L1151.3 534.3Z"/>
<path fill="#FF85E5" d="M1117.7 554.5 L1127.8 547.8 L1141.2 544.4 L1154.7 544.4 L1168.2 547.8 L1164.8 554.5 L1151.3 559.9 L1134.5 561.2 L1121.1 559.9Z"/>
</g>
<g filter="url(#r)">
<path fill="#FFFFFF" d="M1134.5 549.5 L1142.9 548.1 L1144.3 554.5 L1137 556.5Z"/>
<path fill="#4D4D4D" d="M1151.3 522.6 L1156.4 510.8 L1166.5 500.7 L1174.9 490.6 L1179.9 482.2 L1186.6 483.1 L1185 494 L1176.6 505.8 L1168.2 515.8 L1161.4 525.9 L1154.7 529.3Z"/>
</g>
<g filter="url(#rm)">
<path fill="#FF85E5" d="M1160.5 444.3 L1166 449.2 L1174.7 454.1 L1182.1 451.7 L1190.7 454.1 L1193.2 464 L1187 466.4 L1180.8 468.9 L1179.6 477.8 L1160.5 477.8Z"/>
<path fill="#B3685C" d="M1162.9 456.6 L1171 455.4 L1175.9 462.7 L1173.4 471.4 L1166 470.1Z"/>
</g>
<g filter="url(#r)">
<path fill="#4D4D4D" d="M1160.5 470.1 L1166 470.8 L1166.6 476.9 L1160.5 477.3Z"/>
</g>
<g filter="url(#rm)">
<path fill="#FF85E5" d="M1191.9 477.8 L1196.9 466.4 L1201.8 454.1 L1204.3 446.7 L1211.7 439.3 L1224 438.1 L1233.8 435.6 L1243.7 439.3 L1251.1 433.8 L1261 435.6 L1264.7 443 L1271.5 444.3 L1278.2 439.3 L1281.3 468.9 L1273.3 477.8Z"/>
<path fill="#FF57EC" d="M1199.3 475.1 L1205.5 461.5 L1219.1 449.2 L1236.3 443 L1256 441.8 L1268.4 448 L1261 451.7 L1243.7 451.7 L1228.9 456.6 L1216.6 466.4 L1209.2 476.3Z"/>
</g>
<g filter="url(#r)">
<path fill="#FFFFFF" d="M1201.8 447 L1211.7 439 L1214.1 440.8 L1204.9 449.4Z"/>
<path fill="#FFFFFF" d="M1250.5 432.8 L1254.8 430.9 L1261.6 436.5 L1258.5 439 L1253 435.9Z"/>
<path fill="#FFFFFF" d="M1196.9 463 L1201.8 459.3 L1203 461.8 L1198.7 466.1Z"/>
<path fill="#4D4D4D" d="M1224 444.3 L1228.9 443 L1230.1 446.7 L1225.2 448Z"/>
</g>
<g filter="url(#rm)">
<path fill="#B3685C" d="M1214.1 477.8 L1219.1 468.9 L1231.4 464 L1243.7 461.5 L1256 460.3 L1268.4 456.6 L1273.3 454.1 L1279.5 459.1 L1281.3 468.9 L1273.3 477.8Z"/>
<path fill="#FFB3DE" d="M1248.6 460.9 L1261 459.1 L1272.1 460.3 L1270.8 466.4 L1258.5 468.9 L1249.9 466.4Z"/>
<path fill="#CC9088" d="M1226.4 477.8 L1231.4 470.1 L1243.7 468.9 L1253.6 471.4 L1251.1 477.8Z"/>
<path fill="#FF57EC" d="M1278.8 437.5 L1297.5 447.5 L1298.8 456.2 L1280 455 L1273.8 447.5Z"/>
<path fill="#B3685C" d="M1275 457.5 L1297.5 456.2 L1297.5 470 L1293.8 482.5 L1286.2 492.5 L1278.8 501.2 L1272.5 497.5 L1266.2 490 L1263.8 482 L1275 473 L1280.5 465Z"/>
<path fill="#CC9088" d="M1282.5 472.5 L1293.8 471.2 L1291.2 483.8 L1283.8 492.5 L1278.8 490Z"/>
<path fill="#FF57EC" d="M1295 450 L1345 441.2 L1345 448.8 L1297.5 460Z"/>
<path fill="#FF57EC" d="M1337.1 417.1 L1340.2 412 L1346.5 407.3 L1352.8 403.3 L1359 397.5 L1368.5 394.7 L1384.2 416.7 L1384.2 432.4 L1342.2 437.1 L1342.2 418.2Z"/>
<path fill="#E1BEE7" d="M1355.1 415.9 L1360.6 418.2 L1362.2 424.5 L1357.5 426.1 L1354.3 421.4Z"/>
<path fill="#E1BEE7" d="M1355.9 401 L1360.6 400.2 L1361 404.1 L1356.7 404.9Z"/>
<path fill="#E1BEE7" d="M1338.6 412.8 L1343.4 412 L1344.1 415.9 L1339.4 416.7Z"/>
<path fill="#FF85E5" d="M1306.9 417.9 L1342.2 418.2 L1352.8 427.7 L1351.2 437.1 L1304.1 445.7 L1304.9 433.9 L1305.7 423Z"/>
<path fill="#FFB3DE" d="M1319.8 423 L1327.7 421.4 L1337.1 421.4 L1340.2 427.7 L1333.9 433.9 L1324.5 435.5 L1319.8 430.8Z"/>
</g>
<g filter="url(#r)">
<path fill="#FFFFFF" d="M1329.2 422.2 L1336.3 421.8 L1337.1 425.3 L1330 426.1Z"/>
<path fill="#4D4D4D" d="M1307.7 418.6 L1317.5 418.6 L1318.2 423 L1313.5 426.9 L1307.7 427.7Z"/>
</g>
<g filter="url(#rm)">
<path fill="#FF85E5" d="M1320.2 414.7 L1326.9 414.7 L1327.3 417.1 L1320.6 417.1Z"/>
<path fill="#FF57EC" d="M1300 396.2 L1302 396.2 L1303 415 L1305 438 L1287.5 438 L1292.5 427.5 L1298 415Z"/>
<path fill="#FF57EC" d="M1285 415 L1305.5 415 L1303.8 443.8 L1297.5 450 L1278.8 437.5 L1281.2 425Z"/>
<path fill="#E1BEE7" d="M1191.2 388.8 L1212.5 387 L1230 389.5 L1243.8 387 L1253.8 389.5 L1252.5 395 L1242.5 397.5 L1240 407.5 L1235 408.8 L1232.5 400 L1225 397.5 L1217.5 405 L1213.8 400 L1207.5 393.8 L1197.5 395.5 L1192.5 394.2Z"/>
<path fill="#FF57EC" d="M1220 391.2 L1250 390.5 L1250 395 L1241.2 396.2 L1237.5 405 L1234.5 400 L1225 395.5Z"/>
</g>
<g filter="url(#r)">
<path fill="#FFFFFF" d="M1195 395.5 L1207.5 394.5 L1200 401.2 L1193.8 402.5Z"/>
</g>
<g filter="url(#rm)">
<path fill="#FF85E5" d="M1100 422.5 L1156.2 415 L1175 410 L1187.5 401.2 L1193 395 L1195 398.8 L1187.5 407.5 L1175 415 L1158 422.5 L1158 438 L1100 438Z"/>
<path fill="#CC9088" d="M1220 480.5 L1260 480.5 L1275 502.5 L1275 515 L1270 525 L1260 525 L1250 520 L1240 515 L1232.5 500 L1225 490Z"/>
<path fill="#FF0000" d="M1225 500 L1240 501.2 L1241.2 515 L1230 513.8Z"/>
<path fill="#CC9088" d="M1071.2 606.2 L1092.5 606.2 L1095 615 L1080 618.8 L1072.5 615Z"/>
<path fill="#F4CCCC" d="M712.5 680 L740 677.5 L745 687.5 L725 695 L710 690Z"/>
<path fill="#F4CCCC" d="M755 675 L782.5 672.5 L785 685 L765 687.5Z"/>
<path fill="#FD9431" d="M782.5 657.5 L805 653.8 L822.5 658.8 L817.5 668.8 L795 672.5 L780 667.5Z"/>
<path fill="#FD9431" d="M830 662.5 L857.5 660 L860 670 L837.5 672.5Z"/>
<path fill="#FD9431" d="M1027.5 672.5 L1037.5 667.5 L1040 680 L1032.5 682.5Z"/>
<path fill="#FD9431" d="M1120 658 L1137.5 656.2 L1147.5 672.5 L1135 672.5Z"/>
</g>
<g filter="url(#r)">
<path fill="#FFFFFF" d="M222.5 232.5 L389.2 232.5 L389.2 313.8 L398.8 322.5 L395 335 L391.2 345 L386.2 352.5 L385 360 L389.2 370 L389.2 422.5 L225 422.5Z"/>
<path fill="#FFFFFF" d="M389.2 235.5 L408.8 235.5 L409.5 260 L417.5 275 L430 287.5 L438.8 297.5 L433.8 312.5 L421.2 315 L412.5 322.5 L413.8 331.2 L403.8 333.8 L400 325 L397.5 320 L389.2 313.8Z"/>
<path fill="#FFFFFF" d="M391.2 345 L400 341.2 L407.5 350 L412.5 362.5 L411.2 375 L402.5 367.5 L393.8 362.5 L390 362.5 L386.2 355Z"/>
<path fill="#FFFFFF" d="M415 415 L425 412.5 L440 410 L447.5 401.2 L462.5 402.5 L463.8 412.5 L450 418 L417.5 416.2Z"/>
<path fill="#4D4D4D" d="M305 237.5 L335 237.5 L333.8 247.5 L325 255 L317.5 265 L310 262.5 L307.5 275 L300 273.8 L302.5 260 L306.2 250Z"/>
<path fill="#4D4D4D" d="M340 237.5 L372.5 237.5 L370 247.5 L386.2 250 L386.2 265 L375 260 L362.5 252.5 L350 255 L342.5 247.5Z"/>
<path fill="#4D4D4D" d="M395 237.5 L407.5 237.5 L407.5 250 L397.5 245Z"/>
<path fill="#4D4D4D" d="M287.5 290 L302.5 288.8 L303.8 297.5 L295 298.8Z"/>
<path fill="#4D4D4D" d="M292.5 301.2 L302.5 300 L302.5 311.2 L293.8 310Z"/>
<path fill="#4D4D4D" d="M325 265 L332.5 267.5 L330 275 L323.8 272.5Z"/>
<path fill="#4D4D4D" d="M375 325 L392.5 323 L397.5 330 L392.5 345 L386.2 355 L386.2 417.5 L335 417.5 L327.5 412.5 L312.5 415 L282.5 412.5 L280 392.5 L285 375 L300 370 L317.5 366.2 L320 357.5 L336.2 362.5 L350 355 L362.5 345 L372.5 337.5Z"/>
<path fill="#FFFFFF" d="M360 375 L372.5 370 L375 380 L365 387.5Z"/>
<path fill="#FFFFFF" d="M350 395 L362.5 390 L365 405 L355 412.5Z"/>
<path fill="#FFFFFF" d="M372.5 390 L385 387.5 L385 400 L375 402.5Z"/>
<path fill="#FFFFFF" d="M327.5 405 L332.5 405 L331.2 417.5 L327 417.5Z"/>
</g>
<g filter="url(#rm)">
<path fill="#FFB3DE" d="M307.5 302.5 L317.5 292.5 L327.5 290 L325 277.5 L335 275 L340 270 L350 272.5 L350 282.5 L370 285 L382.5 295 L386.2 302.5 L385 310 L370 312.5 L360 310 L350 313.8 L352.5 325 L340 328.8 L317.5 328.8 L315 317.5 L310 312.5Z"/>
<path fill="#FF85E5" d="M325 277.5 L340 268.8 L355 273.8 L375 282.5 L386.2 295 L386.2 310 L372.5 313.8 L355 311.2 L340 300 L330 290Z"/>
<path fill="#FF57EC" d="M338.8 282.5 L350 278.8 L372.5 285 L383.8 295 L378.8 303.8 L360 305 L348.8 301.2 L341.2 295Z"/>
<path fill="#B3685C" d="M326.2 291.2 L336.2 292.5 L350 310 L347.5 313.8 L335 307.5 L327.5 298.8Z"/>
<path fill="#B3685C" d="M338.8 315 L345 315 L345 322.5 L340 322.5Z"/>
<path fill="#FF85E5" d="M335 240 L338.8 240 L338 270 L333.8 272.5Z"/>
<path fill="#FF85E5" d="M340 260 L385 265 L385 268.8 L340 263.8Z"/>
<path fill="#FFB3DE" d="M380 362.5 L392.5 357.5 L400 362.5 L407.5 375 L417.5 385 L437.5 392.5 L447.5 400 L440 410 L425 412.5 L415 405 L405 397.5 L395 390 L387.5 380 L380 375Z"/>
<path fill="#FF85E5" d="M387.5 365 L400 370 L412.5 382.5 L427.5 392.5 L442.5 400 L437.5 410 L420 408.8 L405 398.8 L393.8 387.5 L386.2 375Z"/>
<path fill="#FF57EC" d="M390 370 L400 375 L410 387.5 L425 397.5 L437.5 401.2 L432.5 407.5 L420 405 L407.5 395 L397.5 385Z"/>
<path fill="#B3685C" d="M380.5 362.5 L388.8 362.5 L389.5 375 L382 372.5Z"/>
<path fill="#B3685C" d="M392.5 375 L407.5 387.5 L420 395 L417.5 398.8 L402.5 390 L391.2 380Z"/>
<path fill="#FF85E5" d="M240 402.5 L270 402.5 L271.2 416.2 L242.5 416.2Z"/>
<path fill="#FF57EC" d="M250 405.5 L265 406.2 L266.2 415 L251.2 413.8Z"/>
<path fill="#FF85E5" d="M298.8 322.5 L302.5 322.5 L307.5 345 L303.8 346.2Z"/>
<path fill="#FF85E5" d="M313.8 328.8 L317.5 327.5 L320 345 L340 343.8 L340 347 L317.5 348.8Z"/>
<path fill="#FF85E5" d="M390 302.5 L400 300 L410 305 L407.5 320 L403.8 321.2 L405 307.5 L397.5 303.8 L391.2 305.5Z"/>
<path fill="#FF85E5" d="M355 400 L375 380 L385 365 L387.5 367.5 L378.8 385 L360 405Z"/>
</g>
<g filter="url(#r)">
<path fill="#FFFFFF" d="M225 419.5 L326.2 419.5 L326.2 498.8 L375 543.8 L365 590 L350 612.5 L310 610 L225 515Z"/>
<path fill="#4D4D4D" d="M282.5 422.5 L305 422.5 L307.5 432.5 L300 440 L287.5 437.5 L280 430Z"/>
<path fill="#4D4D4D" d="M300 452.5 L317.5 447.5 L322.5 462.5 L310 465 L302.5 460Z"/>
<path fill="#4D4D4D" d="M327.5 502.5 L340 515 L355 532.5 L362.5 555 L366.2 575 L360 585 L355 565 L347.5 547.5 L337.5 532.5 L327.5 517.5Z"/>
</g>
<g filter="url(#rm)">
<path fill="#FF85E5" d="M250 422.5 L275 425 L277.5 432.5 L265 437.5 L252.5 435Z"/>
<path fill="#FF85E5" d="M247.5 465 L257.5 457.5 L265 445 L275 442.5 L285 445 L297.5 455 L305 470 L310 490 L317.5 510 L330 525 L342.5 540 L352.5 557.5 L360 575 L362.5 595 L355 612.5 L340 617.5 L317.5 612.5 L310 600 L300 587.5 L290 575 L287.5 562.5 L282.5 555 L277.5 542.5 L272.5 532.5 L262.5 522.5 L258.8 512.5 L250 500 L246.2 487.5Z"/>
<path fill="#CC9088" d="M260 470 L263.8 460 L270 450 L282.5 448.8 L293.8 458.8 L300 472.5 L305 490 L312.5 510 L325 527.5 L337.5 542.5 L347.5 560 L355 577.5 L356.2 595 L350 607.5 L337.5 612.5 L320 607.5 L312.5 595 L302.5 582.5 L295 570 L292.5 557.5 L287.5 547.5 L282.5 535 L277.5 525 L271.2 515 L265.5 502.5 L261.2 487.5Z"/>
<path fill="#E8B8B0" d="M265.5 450 L283.8 447.5 L295 463.8 L302.5 488.8 L305 506.2 L296.2 513.8 L280.5 500 L270 478.8 L265 465Z"/>
<path fill="#FF0000" d="M267.5 452.5 L282.5 450 L292.5 465 L300 490 L302.5 505 L295 510 L282.5 497.5 L272.5 477.5 L267.5 465Z"/>
<path fill="#E8B8B0" d="M282.5 490 L290 487.5 L293.8 497.5 L286.2 500Z"/>
<path fill="#E8B8B0" d="M300 537.5 L321.2 533.8 L337.5 552.5 L353 568.8 L359.5 590 L352.5 608.8 L338.8 603 L322.5 587.5 L310 567.5 L300 551.2Z"/>
<path fill="#E8B8B0" d="M285 507.5 L305 507.5 L317.5 532.5 L310 545 L300 540 L290 522.5Z"/>
<path fill="#FF0000" d="M297.5 525 L307.5 525 L308.8 537.5 L298.8 537.5Z"/>
<path fill="#FB3333" d="M305 540 L320 537.5 L335 555 L350 570 L356.2 590 L350 605 L340 600 L325 585 L312.5 565 L302.5 550Z"/>
<path fill="#F66666" d="M317.5 555 L335 565 L347.5 582.5 L347.5 597.5 L337.5 590 L325 575Z"/>
<path fill="#FFB3DE" d="M326.7 440.2 L340.2 435.2 L350.3 425.1 L370.4 423.4 L383.9 428.4 L390.6 440.2 L387.2 453.7 L378.8 465.4 L370.4 475.5 L367.1 485.6 L368.8 495.7 L375.5 505.8 L383.9 515.9 L392.3 524.3 L404.1 522.6 L414.1 526 L424.2 519.2 L437.7 519.2 L451.1 515.9 L451.1 532.7 L399 565 L326.7 497.4Z"/>
<path fill="#CC9088" d="M336.8 453.7 L346.9 445.3 L358.7 448.6 L370.4 458.7 L367.1 472.2 L353.6 475.5 L340.2 470.5Z"/>
</g>
<g filter="url(#r)">
<path fill="#FFFFFF" d="M326.7 441.9 L336.8 440.2 L338.5 457 L333.4 470.5 L326.7 472.2Z"/>
<path fill="#FFFFFF" d="M353.6 428.4 L367.1 426.8 L368.8 438.5 L357 440.2Z"/>
<path fill="#FFFFFF" d="M375.5 435.2 L387.2 433.5 L390.6 448.6 L378.8 453.7Z"/>
<path fill="#FFFFFF" d="M330.1 489 L341.9 494 L353.6 509.1 L346.9 512.5 L335.1 502.4Z"/>
</g>
<g filter="url(#rm)">
<path fill="#FF57EC" d="M360.3 425.1 L370.4 425.1 L373.8 457 L368.8 465.4 L362 448.6Z"/>
</g>
<g filter="url(#r)">
<path fill="#4D4D4D" d="M355.3 440.2 L362 438.5 L365.4 457 L358.7 465.4 L354.5 455.3Z"/>
<path fill="#4D4D4D" d="M375.5 453.7 L387.2 455.3 L383.9 465.4 L375.5 465.4Z"/>
<path fill="#4D4D4D" d="M390.6 470.5 L400.7 467.1 L407.4 485.6 L414.1 502.4 L407.4 515.9 L397.3 519.2 L387.2 509.1 L380.5 495.7 L375.5 482.2Z"/>
<path fill="#4D4D4D" d="M420.9 505.8 L431 499.1 L437.7 509.1 L429.3 515.9Z"/>
<path fill="#4D4D4D" d="M330.1 425.1 L348.6 423.4 L341.9 433.5 L330.1 438.5Z"/>
<path fill="#4D4D4D" d="M390.6 428.4 L399 436.9 L400.7 448.6 L394 446.9 L387.2 435.2Z"/>
<path fill="#4D4D4D" d="M365.4 480.6 L375.5 478.9 L375.5 494 L368.8 495.7Z"/>
</g>
<g filter="url(#rm)">
<path fill="#CC9088" d="M341.9 436.9 L351.9 435.2 L353.6 448.6 L343.5 452Z"/>
<path fill="#CC9088" d="M330.1 457 L338.5 455.3 L340.2 470.5 L331.8 472.2Z"/>
<path fill="#FF85E5" d="M345.2 453.7 L353.6 452 L363.7 458.7 L362 467.1 L350.3 468.8Z"/>
<path fill="#CC9088" d="M340.2 477.2 L348.6 470.5 L362 473.8 L362 487.3 L351.9 494 L341.9 489Z"/>
<path fill="#CC9088" d="M363.7 470.5 L377.2 463.8 L379.7 468.8 L367.1 478.9Z"/>
<path fill="#CC9088" d="M358.7 497.4 L370.4 497.4 L372.1 505.8 L362 505.8Z"/>
<path fill="#CC9088" d="M370.4 515.9 L380.5 512.5 L387.2 522.6 L378.8 529.3Z"/>
<path fill="#FF57EC" d="M383.9 522.6 L394 531 L404.1 539.4 L414.1 532.7 L424.2 527.6 L434.3 520.9 L444.4 519.2 L451.1 517.6 L451.1 524.3 L437.7 527.6 L424.2 534.4 L414.1 541.1 L404.1 546.1 L392.3 539.4 L382.2 531Z"/>
<path fill="#CC9088" d="M353.6 515.9 L370.4 519.2 L383.9 529.3 L394 536 L404.1 543.6 L414.1 538.6 L424.2 531.8 L434.3 525.1 L444.4 523.4 L451.1 521.8 L451.1 549.5 L399 565 L370.4 539.4Z"/>
<path fill="#CC9088" d="M454.5 453.7 L461.2 436.9 L471.3 430.1 L481.4 423.4 L491.5 428.4 L496.5 441.9 L501.6 458.7 L506.6 468.8 L498.2 475.5 L493.2 462.1 L481.4 455.3 L471.3 452 L462.9 448.6Z"/>
<path fill="#E8B8B0" d="M469.6 435.2 L481.4 431.8 L488.1 441.9 L486.4 452 L476.4 448.6Z"/>
<path fill="#FF85E5" d="M476.4 423.4 L482.2 422.6 L482.2 428.4 L477.2 429.3Z"/>
<path fill="#FF85E5" d="M494.8 465.4 L504.9 467.1 L499.9 477.2 L495.7 473.8Z"/>
<path fill="#FF85E5" d="M454.5 478.9 L459.5 482.2 L466.3 494 L462.9 509.1 L467.9 519.2 L464.6 522.6 L457.9 509.1 L461.2 495.7 L454.5 487.3Z"/>
<path fill="#CC9088" d="M459.5 483.9 L466.3 482.2 L469.6 490.7 L462.9 494Z"/>
<path fill="#CC9088" d="M478 505.8 L489.8 489 L493.2 490.7 L488.1 502.4 L481.4 509.1Z"/>
<path fill="#FF85E5" d="M469.6 522.6 L476.4 520.9 L477.2 524.3 L470.5 526Z"/>
<path fill="#CC9088" d="M504.9 532.7 L510 512.5 L521.7 502.4 L533.5 490.7 L543.6 489 L555.4 489 L555.4 549.5 L454.5 549.5 L454.5 544.5 L471.3 546.1 L488.1 544.5 L501.6 542.8Z"/>
<path fill="#FF85E5" d="M503.3 532.7 L508.3 512.5 L520.1 501.6 L521.7 504.1 L510.8 514.2 L505.8 533.5Z"/>
<path fill="#FF0000" d="M533.5 502.4 L543.6 499.1 L555.4 502.4 L555.4 515.9 L545.3 522.6 L538.6 536 L526.8 542.8 L515 539.4 L521.7 522.6 L531.8 515.9Z"/>
</g>
<g filter="url(#r)">
<path fill="#4D4D4D" d="M518.4 509.1 L528.5 505.8 L531.8 514.2 L521.7 517.6Z"/>
<path fill="#4D4D4D" d="M536.9 529.3 L543.6 526 L545.3 536 L538.6 539.4Z"/>
</g>
<g filter="url(#rm)">
<path fill="#FF0000" d="M454.5 544.5 L471.3 547 L488.1 545.3 L504.9 544.5 L504.9 549.5 L454.5 549.5Z"/>
<path fill="#FF85E5" d="M519.2 481.4 L521.7 481.4 L521.7 483.6 L519.2 483.6Z"/>
<path fill="#CC9088" d="M558.8 488.8 L575 490 L585 502.5 L572.5 501.2 L560 497.5Z"/>
<path fill="#FF85E5" d="M635 474 L640 475.5 L639.5 477.5 L635 476.5Z"/>
<path fill="#FF85E5" d="M636.2 515 L643.8 522.5 L642.5 524 L635.5 517Z"/>
<path fill="#CC9088" d="M360 535 L375 532.5 L390 540 L407.5 532.5 L425 535 L440 525 L451.2 532.5 L451.2 575 L437.5 601.2 L375 565Z"/>
<path fill="#FF0000" d="M375 547.5 L390 547.5 L407.5 542.5 L425 545 L440 540 L451.2 545 L465 547.5 L475 551.2 L451.2 555 L451.2 575 L437.5 601.2 L447.5 622.5 L446.2 638 L360 638 L350 615 L360 595 L370 575Z"/>
<path fill="#FD9431" d="M380 560 L400 555 L420 557.5 L440 555 L450 560 L451.2 575 L447.5 577.5 L440 575 L436.2 580 L437.5 601.2 L447.5 622.5 L446.2 638 L375 638 L362.5 625 L360 605 L370 580Z"/>
<path fill="#FDBF6F" d="M390 575 L410 570 L430 575 L435 590 L440 610 L445 625 L443.8 638 L390 638 L380 625 L382.5 600Z"/>
<path fill="#FB3333" d="M365 600 L385 590 L400 595 L395 610 L375 615 L360 612.5Z"/>
</g>
<g filter="url(#r)">
<path fill="#7A6008" d="M384.5 557.5 L388 558.8 L393.8 575 L400 587.5 L397.5 588.8 L390 575Z"/>
<path fill="#7A6008" d="M412.5 615 L420 616.2 L422.5 622.5 L415 621.2Z"/>
</g>
<g filter="url(#rm)">
<path fill="#FB3333" d="M307.5 597.5 L382.5 597.5 L395 630 L400 668.8 L385 670Z"/>
<path fill="#CC9088" d="M310 600 L325 600 L345 610 L360 622.5 L375 632.5 L385 645 L392.5 657.5 L397.5 667 L386.2 668 L383.8 661.2 L380 652.5 L372.5 643.8 L360 637.5 L350 627.5 L340 622.5 L325 618.8 L313.8 615Z"/>
<path fill="#FF85E5" d="M315 605 L327.5 605 L345 615 L362.5 627.5 L377.5 640 L387.5 655 L385 656.2 L375 642.5 L360 631.2 L342.5 618.8 L325 611.2Z"/>
<path fill="#FF0000" d="M337.5 605 L375 605 L395 615 L400 627.5 L390 635 L375 631.2 L360 621.2Z"/>
<path fill="#FB3333" d="M362.5 610 L385 612.5 L392.5 622.5 L380 625Z"/>
<path fill="#FDD78D" d="M400 630 L435 625 L440 642.5 L437.5 650 L441.2 660 L436.2 665.5 L400 667 L392.5 655Z"/>
</g>
<g filter="url(#r)">
<path fill="#FFFFFF" d="M340 605 L346.2 605 L346.2 611.2 L340 611.2Z"/>
<path fill="#FFFFFF" d="M387.5 622.5 L394.5 622.5 L394.5 628 L387.5 628Z"/>
</g>
<g filter="url(#rm)">
<path fill="#FDAA52" d="M433.7 551.5 L558 551.5 L558 700.4 L433.7 700.4Z"/>
<path fill="#FDBF6F" d="M441.1 619 L467 619 L489.2 628.2 L507.7 641.2 L518.8 657.8 L518.8 674.5 L507.7 685.6 L433.7 663.4 L433.7 626.4Z"/>
<path fill="#FDD78D" d="M448.5 637.5 L465.1 633.8 L478.1 637.5 L485.5 648.6 L483.6 659.7 L472.5 663.4 L455.9 656 L444.8 648.6Z"/>
<path fill="#FDD78D" d="M504 637.5 L516.9 637.5 L519.7 647.6 L507.7 648.6Z"/>
<path fill="#F66666" d="M452.2 551.5 L504 551.5 L504 567.2 L502.1 579.2 L493.8 580.5 L491 589.4 L492.9 600.5 L504 609.7 L513.2 619 L526.2 623.6 L541 628.2 L557.6 631.9 L557.6 699.4 L541 699.4 L533.6 685.6 L541 674.5 L533.6 659.7 L518.8 648.6 L504 633.8 L485.5 622.7 L467 606 L457.7 591.2 L450.3 576.4Z"/>
<path fill="#FB3333" d="M453.1 552.4 L489.2 552.4 L483.6 565.3 L474.4 576.4 L467 574.6 L457.7 580.1 L452.2 576.4Z"/>
<path fill="#F59999" d="M457.7 582 L468.8 596.8 L485.5 615.3 L500.3 626.4 L496.6 631.9 L481.8 622.7 L465.1 606 L455.9 593.1Z"/>
<path fill="#F59999" d="M518.8 648.6 L533.6 659.7 L541 674.5 L533.6 685.6 L541 699.4 L557.6 699.4 L557.6 648.6 L537.3 644.9Z"/>
<path fill="#FB3333" d="M541 656 L557.6 654.1 L557.6 699.4 L544.7 699.4 L548.4 685.6 L542.8 670.8Z"/>
<path fill="#CC9088" d="M483.6 604.2 L494.7 612.5 L507.7 625.5 L522.5 634.7 L537.3 640.2 L544.7 651.3 L555.8 658.7 L558 648.6 L558 631.9 L541 628.2 L526.2 623.6 L513.2 619 L504 609.7 L491 599.6Z"/>
<path fill="#FF85E5" d="M469.8 577.4 L483.6 576.4 L489.2 585.7 L485.5 594.9 L474.4 595.9 L467 587.5Z"/>
<path fill="#E1BEE7" d="M473.5 581.1 L481.8 580.5 L484.6 586.6 L481.8 591.2 L475.3 591.2Z"/>
<path fill="#CC9088" d="M491 552.4 L558 552.4 L558 580.1 L548.4 580.1 L541 581.1 L526.2 565.3 L504 563.5 L492.9 561.6Z"/>
<path fill="#CC9088" d="M500.3 556.1 L522.5 556.1 L528 567.2 L533.6 582 L544.7 600.5 L552.1 615.3 L548.4 620.8 L533.6 618.1 L520.6 611.6 L511.4 600.5 L505.8 589.4 L502.1 578.3 L504 567.2Z"/>
<path fill="#E8B8B0" d="M509.5 582 L518.8 580.1 L533.6 600.5 L541 613.4 L533.6 615.3 L520.6 604.2 L513.2 593.1Z"/>
<path fill="#FF0000" d="M502.1 576.4 L509.5 574.6 L513.2 587.5 L507.7 591.2Z"/>
<path fill="#FF57EC" d="M525.2 564.4 L528.4 564.4 L543.2 598.6 L551.5 612.5 L548.4 613.8 L540 599.6Z"/>
</g>
<g filter="url(#r)">
<path fill="#4D4D4D" d="M527.1 566.3 L541 580.1 L548.4 579.2 L558 579.2 L558 611.6 L550.2 611.6 L542.8 598.6 L533.6 582Z"/>
</g>
<g filter="url(#rm)">
<path fill="#FF57EC" d="M485.1 592.7 L493.8 597.2 L504.9 605.7 L516 617.1 L530.8 621.8 L541.9 624.5 L541.9 629.7 L527.1 627.9 L512.3 623 L501.2 612.7 L490.1 603.4 L484 598.6Z"/>
</g>
<g filter="url(#r)">
<path fill="#FFFFFF" d="M486.4 594 L492.9 598.6 L504 607 L515.1 618.1 L529.9 622.7 L541 625.5 L541 628.2 L528 626.4 L513.2 621.8 L502.1 611.6 L491 602.3 L485.5 597.7Z"/>
<path fill="#4D4D4D" d="M492 580.1 L501.2 582 L505.8 591.2 L511.4 602.3 L520.6 613.4 L533.6 619.9 L548.4 622.7 L558 624.5 L558 644.9 L548.4 643 L541 631.9 L539.1 626.4 L526.2 620.8 L513.2 616.2 L504 607 L493.8 598.6 L491 589.4Z"/>
<path fill="#4D4D4D" d="M487.3 557.9 L492.9 557.9 L493.8 569 L488.3 569Z"/>
</g>
<g filter="url(#rm)">
<path fill="#FF85E5" d="M535.4 622.7 L541 631.9 L548.4 643.9 L558 645.8 L558 648.6 L546.5 646.7 L539.1 633.8 L533.6 624.5Z"/>
<path fill="#CC9088" d="M559.5 657.8 L566.9 656 L574.3 659.7 L583.5 656 L590.9 644.9 L592.8 631.9 L594.6 615.3 L592.8 602.3 L598.3 589.4 L607.5 585.7 L616.8 591.2 L622.3 582 L627.9 593.1 L633.4 598.6 L640.8 593.1 L648.2 587.5 L657.5 579.2 L668.6 578.3 L682.5 582 L682.5 683.7 L607.5 683.7 L606.6 687.4 L574.3 687.4 L574.3 699.4 L559.5 699.4Z"/>
<path fill="#CC9088" d="M559.5 554.2 L573.3 554.2 L574.3 565.3 L570.6 578.3 L565 580.1 L559.5 570.9Z"/>
<path fill="#FFB3DE" d="M578 557.9 L587.2 557.6 L587.6 563.5 L578.3 563.5Z"/>
<path fill="#FF0000" d="M559.5 663.4 L570.6 663.4 L578 667.1 L587.2 656 L596.5 641.2 L600.1 626.4 L602 613.4 L607.5 611.6 L609.4 600.5 L613.1 622.7 L614.9 641.2 L622.3 648.6 L624.2 667.1 L631.6 670.8 L637.1 656 L642.7 637.5 L651.9 626.4 L663 622.7 L670.4 628.2 L682.5 624.5 L682.5 683.7 L607.5 683.7 L606.6 687.4 L574.3 687.4 L574.3 699.4 L559.5 699.4Z"/>
<path fill="#FB3333" d="M592.8 648.6 L607.5 633.8 L614.9 648.6 L620.5 663.4 L614.9 678.2 L596.5 681.9 L589.1 667.1Z"/>
<path fill="#F66666" d="M642.7 648.6 L661.2 631.9 L670.4 641.2 L682.5 637.5 L682.5 683.7 L651.9 683.7 L644.5 670.8Z"/>
<path fill="#F59999" d="M657.5 656 L670.4 648.6 L682.5 659.7 L682.5 683.7 L666.7 683.7Z"/>
<path fill="#F66666" d="M559.5 674.5 L578 674.5 L596.5 670.8 L607.5 676.3 L606.6 687.4 L574.3 687.4 L574.3 699.4 L559.5 699.4Z"/>
<path fill="#E8B8B0" d="M663 621.8 L682.5 619 L682.5 631.9 L672.3 637.5 L664.9 631.9Z"/>
<path fill="#FF85E5" d="M612.2 596.8 L625.1 592.2 L637.1 604.2 L639 619 L633.4 626.4 L635.3 641.2 L629.7 644.9 L626 628.2 L614.9 622.7 L610.3 609.7Z"/>
</g>
<g filter="url(#r)">
<path fill="#4D4D4D" d="M614.9 600.5 L624.2 596.8 L633.4 606 L635.3 617.1 L626 624.5 L616.8 619 L613.1 609.7Z"/>
</g>
<g filter="url(#rm)">
<path fill="#CC9088" d="M620.5 637.5 L635.3 637.5 L638.1 659.7 L635.3 672.6 L624.2 670.8 L620.5 656Z"/>
</g>
<g filter="url(#r)">
<path fill="#FFFFFF" d="M623.8 643 L631.6 641.2 L634.4 656 L632.5 668 L626 667.1 L623.3 656Z"/>
<path fill="#FFFFFF" d="M566.9 626.4 L576.1 624.5 L578 631.9 L568.7 633.8Z"/>
<path fill="#FFFFFF" d="M563.2 639.3 L578 637.5 L583.5 643 L579.8 656 L568.7 656 L562.2 648.6Z"/>
</g>
<g filter="url(#rm)">
<path fill="#FF85E5" d="M559.5 656 L566.9 654.1 L576.1 657.8 L583.5 654.1 L590 644.9 L592.4 645.8 L585.4 657.8 L575.2 661.1 L566.9 658.2 L559.5 660Z"/>
<path fill="#FF0000" d="M657.5 592.2 L670.4 591.2 L670.4 595.9 L658.4 596.8Z"/>
<path fill="#FF85E5" d="M605.7 568.1 L622.3 580.1 L621.4 582.9 L604.8 570.9Z"/>
</g>
<g filter="url(#r)">
<path fill="#FFFFFF" d="M606.6 568.1 L613.1 568.7 L612.7 570.9 L606.6 570.5Z"/>
</g>
<g filter="url(#rm)">
<path fill="#CC9088" d="M560 555 L575 557.5 L577.5 585 L562.5 590 L557.5 575Z"/>
</g></g>
<path d="M1125 879.5 L1132.5 878.5 L1140 876.2 L1147.5 873.5 L1153.8 870.2 L1160 866.5 L1164.5 859.5" fill="none" stroke="#CCFF00" stroke-width="3.2" stroke-dasharray="7 2 3 2 9 3" stroke-linecap="round"/>
<ellipse cx="1107.8" cy="878.6" rx="1.8" ry="1.2" fill="#FFFF00"/>
<path d="M1150 872.5 L1160 866.5 L1165.5 857.8" fill="none" stroke="#FFFF00" stroke-width="1.6" stroke-dasharray="3 4"/>
<path fill="#4D4D4D" d="M975 263.8 L982.5 260 L991.2 257 L990 260 L982.5 263.8 L976.2 266.8Z"/>
<path fill="#4D4D4D" d="M942.5 287.5 L950 285.8 L950 289.5 L944.5 291.2Z"/>
<path fill="#4D4D4D" d="M1087.5 311.2 L1096.2 312.5 L1096.2 317.5 L1088.8 316.2Z"/>
<path fill="#4D4D4D" d="M1048.8 320 L1055 319.5 L1055 325 L1049.5 325Z"/>
<g class="b">
<path fill="#000" d="M267.4 236.2 L271.5 240.1 L275.3 241.7 L276.2 248.6 L278.4 254.4 L281 260.3 L278.8 266.2 L278.4 272.1 L278 279.2 L274.5 283 L270.4 285.7 L266.2 287.7 L262.7 284.5 L261.2 278.6 L263.1 273.1 L266.8 269.8 L269.4 265 L267.8 260.3 L269.4 255.4 L270.1 251.9 L264.5 250.3 L260.3 247.4 L261.2 244.1 L264.5 242.4 L267.4 240.9Z"/>
<path fill="#000" d="M1361 435.1 L1365.3 433.9 L1370.8 435.1 L1371.6 438.3 L1367.7 440.2 L1362.2 439.4Z"/>
<path fill="#000" d="M1374.3 437.1 L1377.9 435.1 L1382.2 437.1 L1382.6 440.2 L1377.9 441.8 L1374.3 440.2Z"/>
<path fill="#000" d="M1050.8 338.8 L1054.5 337.5 L1055.5 345 L1053 348.8 L1050 345Z"/>
<path fill="#000" d="M1118.7 792.5 L1117.7 795.3 L1115.1 797 L1111.9 797 L1109.3 795.3 L1108.3 792.5 L1109.3 789.7 L1111.9 788 L1115.1 788 L1117.7 789.7Z"/>
<path fill="#000" d="M1126.2 819 L1125.6 820.7 L1124 821.7 L1122 821.7 L1120.4 820.7 L1119.8 819 L1120.4 817.3 L1122 816.3 L1124 816.3 L1125.6 817.3Z"/>
<path fill="#000" d="M1150.6 862 L1149.9 863.9 L1148.1 865.1 L1145.9 865.1 L1144.1 863.9 L1143.4 862 L1144.1 860.1 L1145.9 858.9 L1148.1 858.9 L1149.9 860.1Z"/>
<path fill="#000" d="M961.4 729.6 L965.9 728.7 L969 732.3 L969.4 736.8 L966.8 739.5 L963.2 738.6 L961.8 735Z"/>
<path fill="#000" d="M273.8 523 L279.5 521.2 L281.2 527.5 L279.5 532.5 L283.8 538.8 L280 541.2 L275 535 L273.8 528.8Z"/>
<path fill="#000" d="M852.5 745.2 L858 743 L859 748 L854.2 750.5Z"/>
<path fill="#000" d="M818.8 771 L828 769 L829 774 L821 777Z"/>
<path fill="#000" d="M797.5 794 L801.2 792.8 L802 802.8 L798.8 806 L796.5 799Z"/>
<path d="M267.5 235.5 L848.8 235.5 L848.8 226.2 L857.5 226.2 L859.1 229.4 L859.4 233 L859.4 236.5 L860 240 L864 240.2 L867.9 240.2 L871.6 241.8 L875 243.8 L877.7 244 L880.4 244.3 L883 245.1 L885 247 L888.6 245.7 L892.5 246 L896.2 244.9 L900 245.5 L902.6 247.6 L905.7 248.8 L908.8 250.1 L911.2 252.5 L914.1 252.9 L917 252.9 L919.5 254.6 L922.5 255 L924.4 255.9 L926.2 257.1 L927.9 258.4 L930 258.8 L932.9 257.7 L935.2 255.6 L938.1 255 L941.2 255 L943.7 255.1 L946 256.1 L948.1 257.2 L950 258.8 L954.8 259.4 L959.2 261.5 L964 261.6 L968.8 261.2 L968.8 262.5 L964.1 264.1 L959.2 265 L954.5 266.8 L950 268.8 L947.9 272 L944.6 273.9 L941.2 275.6 L937.5 276.2 L934.2 278.9 L930.7 281.3 L928.2 284.7 L925 287.5 L921.5 289.6 L917.9 291.5 L914.8 294.2 L911.2 296.2 L913.5 296.3 L915.7 296 L917.8 295 L920 294.5 L924.4 293.6 L928.8 292.6 L933.4 292.1 L937.5 290 L938.2 292.2 L938.5 294.6 L939 296.9 L940.5 298.8 L941.7 297.4 L942.9 296.1 L944.7 295.5 L946.2 294.5 L947.8 295.9 L949.3 297.4 L950.7 299.1 L951.2 301.2 L955 300.4 L958.4 298.7 L961.8 297 L965 295 L968.3 293.7 L971.9 293.1 L974.9 291.2 L977.5 288.8 L980.8 287.2 L983.9 285.3 L986.9 283.2 L990 281.2 L992 280.6 L993.5 279.2 L994.9 277.7 L996.2 276.2 L1006.2 275.8 L1004.8 278 L1003.8 280.5 L1002 281.9 L1000.5 283.6 L998.3 284.1 L996.2 285 L994.5 285.7 L993.1 286.9 L992.3 288.5 L991.2 290 L998.8 290 L1001.6 291.3 L1004.5 292.2 L1007.6 292.9 L1010 295 L1012.2 296.2 L1013.8 298 L1016 299.2 L1017.5 301.2 L1020.4 301.3 L1023.3 300.6 L1026.2 301 L1028.8 302.5 L1030.7 300.9 L1032.8 299.4 L1035.3 298.9 L1037.5 297.5 L1041.1 296.1 L1044.8 294.9 L1048.6 295.3 L1052.5 295.5 L1055.3 296.3 L1058.2 296.1 L1061.2 295.8 L1063.8 294.5 L1064.7 296.1 L1065.4 297.7 L1065.9 299.4 L1066.2 301.2 L1068.2 302.5 L1070.5 302.7 L1072.7 302.2 L1075 302.5 L1076.4 301.7 L1078 301.3 L1079.6 301 L1081.2 301.2 L1081.2 308.8 L1082.4 310.1 L1083.7 311.3 L1085.1 312.4 L1086.2 313.8 L1083.5 314.9 L1080.8 315.8 L1077.8 315.6 L1075 315 L1072.1 314.7 L1069.4 315.8 L1066.5 316.1 L1063.8 317 L1061.1 315.7 L1058.2 314.7 L1055.4 313.3 L1052.5 312.5 L1049.9 313.2 L1047.8 314.9 L1045.1 314.6 L1042.5 315 L1039.9 314.7 L1037.3 315.3 L1034.9 316.5 L1032.5 317.5 L1022.5 317.5 L1020.4 318.9 L1018.2 320 L1017.1 322.1 L1016.3 324.3 L1014.9 326.3 L1012.8 327.5 L1012.4 329.4 L1011.4 331.1 L1010.2 332.7 L1008.5 333.8 L1007.9 336.7 L1006.2 339 L1005.2 341.8 L1003 343.8 L1002.7 345.8 L1001.7 347.5 L1000.6 349.1 L999.2 350.5 L1000.5 353.2 L1001.2 351.6 L1001.3 349.8 L1002.5 348.6 L1003.5 347.2 L1004.8 343.6 L1006.9 340.5 L1009.5 337.8 L1012.5 335.5 L1014.5 331.8 L1017.7 329.1 L1021.3 326.9 L1023.8 323.5 L1025.1 322.3 L1026.4 321.2 L1026.9 319.6 L1027.5 318 L1030.5 318 L1029.8 321.8 L1027.6 325 L1025 327.8 L1022 330.2 L1019.3 334 L1017.9 338.5 L1015.6 342.5 L1012 345.5 L1011.1 348.6 L1011.7 351.8 L1010.1 354.5 L1008.5 357.2 L1008.3 361.6 L1008.4 365.9 L1007.8 370.3 L1005.2 374 L1003.7 378.1 L1004.2 382.5 L1003.1 386.7 L1003.5 391 L1004.5 395.2 L1004.4 399.6 L1006 403.6 L1007 407.8 L1007.9 411.6 L1009.9 415 L1010 418.9 L1010.2 422.8 L1011.7 423.9 L1012.9 425.3 L1014.7 425.9 L1016.2 427 L1018.6 427.9 L1021.2 428 L1022.9 428.3 L1024.6 427.9 L1026.2 427.3 L1027.5 426.2 L1029.9 423.9 L1031.6 421.1 L1032.3 417.9 L1033.8 415 L1034.4 411.2 L1035.5 407.5 L1035.3 403.6 L1037 400 L1034.9 396.6 L1033.6 392.9 L1033.2 388.9 L1033.8 385 L1034.4 381.1 L1033.3 377.4 L1032.1 373.7 L1031.2 370 L1033.6 366.8 L1034.2 362.8 L1034.9 358.8 L1033.8 355 L1034.4 351.6 L1035.9 348.6 L1036.9 345.3 L1038.8 342.5 L1040.3 340 L1042.6 338.1 L1045.1 336.7 L1047.5 335 L1049.5 335.1 L1051.5 334.5 L1053.2 333.5 L1055 332.5 L1056.8 331.6 L1058.3 330.2 L1059.5 328.6 L1061.2 327.5 L1063 326 L1064 324 L1065.4 322.1 L1066.2 320 L1067.8 319.7 L1069.5 319.4 L1070.9 318.5 L1072.5 318 L1075 319 L1077.3 320.4 L1079.8 321.2 L1082.5 321.2 L1085.3 323.7 L1087.8 326.5 L1091.5 327.5 L1095 328.8 L1095.5 331.4 L1096.5 333.7 L1098.6 335.3 L1100 337.5 L1100.9 340.6 L1100.6 343.9 L1099.1 346.7 L1098.8 350 L1097.9 352.6 L1096.1 354.7 L1095.1 357.3 L1095 360 L1092.9 361.3 L1091 363 L1090.1 365.3 L1088.8 367.5 L1088.4 369.2 L1087.4 370.6 L1087.2 372.4 L1086.2 373.8 L1087.6 374.6 L1089.2 375.2 L1090.9 375.1 L1092.5 375 L1094.1 373.7 L1095.7 372.5 L1097 370.8 L1097.5 368.8 L1100.1 367.9 L1102.8 367.7 L1105 366.1 L1107.5 365 L1109.4 365.8 L1110.9 367.2 L1112.3 368.6 L1113.8 370 L1115 373.6 L1115.9 377.3 L1116.8 381.1 L1116.2 385 L1116.2 387.6 L1115.8 390.1 L1116.7 392.6 L1117.5 395 L1116.1 396.6 L1115.5 398.7 L1114.7 400.6 L1113.8 402.5 L1112.3 404.8 L1110.8 407.1 L1110.4 409.8 L1110 412.5 L1109.3 415.3 L1107.4 417.5 L1106.3 420 L1105 422.5 L1104.3 424.2 L1102.9 425.4 L1101.3 426.2 L1100 427.5 L1099 429 L1097.5 430 L1100 430.6 L1102.5 430.5 L1105 430.9 L1107.5 431.2 L1109.5 432 L1111.4 432.8 L1113.2 433.9 L1115 435 L1118.8 433.5 L1122.9 433.6 L1126.5 431.9 L1130 430 L1134.5 426.9 L1139.5 424.9 L1144.9 424.5 L1150 422.5 L1153.8 421.1 L1157.5 419.4 L1161.5 418.3 L1165 416.2 L1168.4 415.2 L1171.9 414.4 L1174.8 412.4 L1177.5 410 L1180 408.5 L1182.5 406.9 L1185.2 405.6 L1187.5 403.8 L1188.7 401.6 L1189.9 399.3 L1191.2 397.2 L1192.5 395 L1192.5 393 L1192.1 391 L1191.4 389 L1190 387.5 L1192.6 387.1 L1195.3 387.4 L1197.7 386.3 L1200 385 L1212.5 384.5 L1216.4 387 L1220.9 388 L1225.4 386.9 L1230 387.5 L1232.8 385.5 L1235.8 383.8 L1239 382.4 L1242.5 382.5 L1243.4 380.1 L1245.1 378.3 L1247.1 376.8 L1248.8 375 L1248.8 372.2 L1247.6 369.7 L1245.9 367.6 L1245 365 L1246.5 364 L1247.8 362.8 L1248.6 361.2 L1250 360 L1252.6 359 L1254.5 357 L1255.7 354.5 L1257.5 352.5 L1260 351 L1262.7 349.8 L1264.5 347.4 L1266.2 345 L1269.1 344.9 L1271.8 343.8 L1273.7 341.5 L1276.2 340 L1307.5 340 L1347.5 339.2 L1348.1 337.5 L1348.6 335.8 L1349.2 334.1 L1350 332.5 L1357.5 332.5 L1359.1 330.4 L1361.2 328.8 L1363.2 326.6 L1364.6 324 L1366.2 321.5 L1368.8 320 L1369.7 317.5 L1370.8 315.1 L1371 312.3 L1372.5 310 L1373.7 307.5 L1374.6 304.8 L1376 302.4 L1377.5 300 L1378.5 298 L1378.5 295.8 L1380.1 294.4 L1381.2 292.5 L1385.3 288.1 L1390.8 285.6 L1392.9 280 L1396.2 275 L1397.3 276.3 L1398.8 277.3 L1399.6 278.8 L1400 280.5 L1403.8 278.8 L1407.8 277.4 L1412 278.4 L1416.2 277.5 L1418.4 279.2 L1420.1 281.4 L1422.8 282.1 L1425 283.8 L1425.2 285.5 L1425.6 287.2 L1426.4 288.7 L1427.5 290 L1427.5 320 L1429.6 320.5 L1431.2 321.8 L1432.3 323.5 L1433.8 325 L1434.8 327.4 L1434.6 330 L1434.2 332.5 L1435 335 L1436.4 336 L1438 336.5 L1439.7 336.6 L1441.2 337.5 L1441.7 339.4 L1441.4 341.4 L1441.9 343.4 L1443 345 L1441.1 346.5 L1439.1 347.6 L1437 348.7 L1435 350 L1432.3 351 L1429.4 351.4 L1427.6 353.6 L1425 355 L1422 356.3 L1418.7 356.8 L1415.8 358.4 L1412.5 358.8 L1410 358.8 L1407.8 357.7 L1405.6 356.6 L1403.8 355 L1402.7 357.8 L1401.1 360.3 L1399 362.4 L1397.5 365 L1394.6 367.2 L1391.7 369.4 L1388.6 371.5 L1385 372.5 L1383 374.6 L1380.2 375.4 L1377.7 376.8 L1375 377.5 L1373.4 380.3 L1372.5 383.4 L1370 385.4 L1367.5 387.5 L1366.9 388.9 L1366.2 390.2 L1364.9 391.1 L1364.1 392.4 L1364.5 395.9 L1365.1 397.4 L1366.1 398.6 L1366.4 400.2 L1366.5 401.8 L1365.9 403.4 L1365.3 404.9 L1362.7 405.7 L1360.6 407.3 L1359.1 409.1 L1357.5 410.8 L1358.2 412.2 L1359 413.5 L1361 414.1 L1363 414.3 L1363.9 416.2 L1365.7 417.5 L1366.9 419.8 L1367.7 422.2 L1368 424.3 L1368.9 426.1 L1370.8 426.1 L1372.7 425.9 L1374.5 425.3 L1376.3 424.9 L1377 423.5 L1377.9 422.2 L1375.8 421.4 L1374.3 419.8 L1373.6 417.5 L1376.3 416.3 L1378.4 416.6 L1380.2 417.6 L1381.5 419.3 L1382 421.4 L1381.4 426.1 L1380.1 428.1 L1379.4 430.4 L1373.2 430.2 L1370.9 431 L1368.5 431.2 L1367.1 432.8 L1365.3 433.9 L1363.1 435 L1360.6 435.1 L1358.8 434.2 L1356.7 433.9 L1355.3 434.9 L1354.3 436.3 L1352.9 434.6 L1351.2 433.2 L1350.2 434.9 L1348.8 436.3 L1346.9 437 L1344.9 437.1 L1340.2 436.9 L1332.4 437.5 L1330.5 438.1 L1328.5 438.7 L1326.5 439.2 L1324.5 439 L1322.8 439.6 L1321 439.7 L1319.2 439.5 L1317.5 440.2 L1314.6 440.3 L1312 441.8 L1310.5 442.5 L1308.8 442.9 L1307.1 443.1 L1305.7 444.1 L1303.4 444.9 L1301 445.3 L1299.9 446.4 L1298.6 447.3 L1297.5 450 L1297 451.5 L1296.3 453 L1295.1 454 L1293.8 455 L1295 458.7 L1295 462.5 L1295.6 466.3 L1296.2 470 L1296.5 473.4 L1296 476.7 L1294.8 480 L1292.5 482.5 L1291.4 485.5 L1289 487.7 L1287.6 490.6 L1285 492.5 L1283.9 494.7 L1282.3 496.6 L1280.5 498.2 L1278.8 500 L1276.9 500.6 L1275 501.2 L1274 500 L1272.7 499 L1271.5 498.1 L1270 497.5 L1269 495.4 L1268.2 493.3 L1266.5 491.8 L1265 490 L1264.5 488.1 L1264.6 486.2 L1263.8 484.5 L1262.5 483 L1263.7 484.6 L1264.1 486.6 L1264.9 488.5 L1266.2 490 L1266.3 493.3 L1266.8 496.6 L1268.1 499.8 L1270 502.5 L1271.1 505.6 L1270.9 508.8 L1272.3 511.7 L1273.8 514.5 L1273.1 517.2 L1272.5 520 L1270.8 522.3 L1270 525 L1267.1 527.4 L1265.3 530.7 L1263.7 534 L1262.5 537.5 L1260 540.1 L1258.1 543.1 L1256.8 546.5 L1256.2 550 L1254.7 551.2 L1253 552 L1252.5 555 L1254.2 556.4 L1255.3 558.3 L1255.9 560.4 L1256.2 562.5 L1257.3 565.7 L1259.4 568.4 L1259.6 571.7 L1260 575 L1260.6 577.6 L1261.6 580.1 L1262.5 582.7 L1263.8 585 L1265 588.4 L1264.4 591.9 L1264.2 595.4 L1265 598.8 L1263 599.8 L1260.9 600.8 L1259.2 602.3 L1257.5 603.8 L1255.6 604.4 L1253.7 604.1 L1251.8 604.3 L1250 605 L1249.1 608.1 L1246.9 610.5 L1245 613 L1242.5 615 L1230 615 L1227.5 617 L1224.6 618.2 L1222 620 L1220 622.5 L1216.9 624.4 L1213.8 626.3 L1212.1 629.5 L1210 632.5 L1207.4 633.7 L1205 635.3 L1202.3 636.3 L1200 638 L1200 637.5 L1196.6 639.6 L1193.4 642.1 L1191.1 645.5 L1187.5 647.5 L1185.8 650.7 L1183.4 653.4 L1180.2 655.1 L1177.5 657.5 L1174.5 660.2 L1171.8 663.1 L1168.9 666.2 L1165 667.5 L1162.2 671.2 L1158.6 674.2 L1154.2 675.5 L1150 677.5 L1148 681 L1146.8 684.8 L1146.3 688.7 L1145 692.5 L1143.8 695.6 L1142.4 698.7 L1141.3 701.9 L1140 705 L1139 707.9 L1139.2 711 L1138.1 713.8 L1136.2 716.2 L1135.5 719.9 L1136.4 723.6 L1139 726.3 L1140 730 L1140.7 733.9 L1142.7 737.4 L1142.9 741.5 L1145 745 L1146.8 748.6 L1147.7 752.4 L1149.4 756 L1150 760 L1151 764 L1150.8 768.1 L1152.7 771.6 L1155 775 L1157 779.2 L1159.1 783.3 L1158.5 788 L1160 792.5 L1161.4 796.3 L1163.9 799.5 L1164.4 803.5 L1165 807.5 L1164.7 811.6 L1165.3 815.6 L1167.6 819.1 L1168.8 823 L1168.8 829.2 L1167.3 833.9 L1165.7 838.6 L1167.3 843.5 L1166.5 848.5 L1166 851.8 L1165.4 855.2 L1163.4 857.9 L1161.2 860.5 L1158.7 862.2 L1155.8 862.8 L1152.9 863.6 L1150 864 L1148.5 863.4 L1147.2 862.5 L1145.9 860.7 L1144 859.5 L1140 854.9 L1135 851.4 L1134 845.4 L1131 840 L1129.4 835.5 L1126.1 832 L1125.8 827.3 L1124.5 822.8 L1122.9 819.9 L1121.9 816.6 L1119.3 814.5 L1117 812 L1116.9 808.5 L1115 805.6 L1114.6 802.3 L1113.8 799 L1112.9 797.2 L1112.2 795.3 L1111.5 793.5 L1111.2 791.5 L1109.9 790.7 L1109 789.4 L1108.8 787.8 L1108 786.5 L1109 784 L1110.5 781.8 L1111.4 777.9 L1113.2 774.4 L1112.4 770.5 L1112.5 766.5 L1110.1 763.7 L1108.8 760.2 L1106.7 757.2 L1105 754 L1104.3 750.8 L1102.4 748.1 L1100.3 745.7 L1097.5 744 L1095 740.9 L1091.5 739.2 L1088.7 736.4 L1085 735.2 L1082.5 734.5 L1080 734 L1077.4 734.8 L1075 736.2 L1072 738.5 L1069.6 741.5 L1066.1 742.7 L1062.5 743.8 L1060.7 743.1 L1058.8 742.7 L1056.9 742.8 L1055 742.5 L1053 739.2 L1049.8 737.1 L1048 733.8 L1047.5 730 L1044.9 728.7 L1042.5 727 L1039.8 725.6 L1037.5 723.8 L1034.6 722.3 L1031.3 722.4 L1028.2 722.8 L1025 722.5 L1021.9 722.9 L1018.7 722.6 L1015.6 723.1 L1012.5 723.8 L1010.6 725.5 L1008.3 726.5 L1006.2 728.1 L1003.8 728.8 L1003 725.5 L1000.9 722.8 L1000.5 719.5 L1000 716.2 L999.5 719.1 L1000.2 721.9 L998.8 724.5 L998.8 727.5 L997.1 727.2 L995.6 726.3 L994 725.9 L992.5 725 L985 725 L982.7 726.4 L980.3 727.3 L977.7 728 L975 727.5 L974 729.7 L972.4 731.7 L970.5 733.3 L968.8 735 L975 735 L973.2 737.2 L972.5 740 L971.1 741.5 L969.6 742.8 L968.6 744.5 L967.5 746.2 L968.8 747.7 L970 749.4 L971.4 750.8 L972.5 752.5 L974.6 753.5 L976.4 754.9 L977.1 757.2 L978.8 758.8 L976.8 760.1 L974.8 761.5 L972.3 761.8 L970 762.5 L968.8 760.5 L968.2 758.3 L966.4 756.8 L965 755 L962.9 754.1 L960.9 753 L959.2 751.5 L957.5 750 L955.2 750.4 L953.2 751.6 L951.3 753 L950 755 L949.4 756.8 L948.1 758.1 L946.5 758.9 L945 760 L943.2 759 L941.5 758 L939.5 757.6 L937.5 757.5 L935.1 756.2 L932.8 754.7 L931.9 752.1 L930 750 L929 747.2 L927 745 L925.2 742.5 L922.5 741.2 L920.8 742.1 L918.8 742.3 L916.9 742.8 L915 742.5 L913.9 743.6 L913.1 745 L911.8 746 L911.2 747.5 L908.5 746.6 L905.7 746.2 L902.8 745.8 L900 746.2 L897.5 744.9 L894.9 743.8 L892.2 743.1 L890 741.2 L886.8 741.8 L883.6 741.6 L880.3 742 L877.5 743.8 L875 744.2 L872.5 744 L870.1 745 L867.5 745 L865 745.8 L862.7 746.9 L860 746.9 L857.5 747.5 L855.8 746.8 L854.5 745.5 L853.5 744 L852.5 742.5 L853.2 744.4 L853.6 746.3 L854.6 748.1 L855 750 L853 753 L849.7 754.7 L847.6 757.6 L845 760 L841.5 761.2 L838.8 763.9 L835.5 765.5 L832.5 767.5 L829.1 768.2 L825.8 768.8 L823.1 771 L820 772.5 L817.9 773.6 L816.6 775.5 L814.4 776.3 L812.5 777.5 L811.5 780.6 L809.3 782.9 L807.1 785.2 L805 787.5 L803.7 789.3 L802.2 791 L801.3 793.1 L800 795 L798.1 797.8 L797.6 801.1 L797.3 804.4 L796.2 807.5 L798.1 811.1 L799.4 814.9 L799.3 819 L798.8 823 L799.6 821.1 L800 819 L801.3 821.6 L803.3 823.6 L803.8 826.4 L805 829 L806.1 832.4 L806.2 835.9 L806 839.5 L807.5 842.8 L804.3 842.3 L801.2 842.8 L798 842.6 L795 841.5 L791.2 840.3 L787.1 840.1 L783.4 838.7 L780 836.5 L777.2 834.5 L774.3 832.5 L770.8 832.6 L767.5 831.5 L765.8 829.2 L764.3 826.9 L763.6 824.1 L762.5 821.5 L761.7 818.2 L762.1 814.8 L760.3 812 L758.8 809 L757.7 806.3 L755.6 804.4 L754.2 801.8 L753.8 799 L750 796.5 L747.7 792.5 L746.1 788.3 L745 784 L744.4 778.8 L741.8 774.2 L738.9 769.9 L735 766.5 L735 762.1 L733.2 758 L730.1 755 L727.5 751.5 L725 749.1 L721.8 748 L720 745.1 L717.5 742.8 L713 743.2 L708.6 744.3 L704.2 743.2 L700 741.5 L697.6 742.8 L695.1 743.6 L692.7 744.7 L690 745 L690 747.8 L689.4 750.5 L688 752.9 L686.2 755 L684.5 756.9 L682.2 758 L680.6 760 L680 762.5 L676.6 762 L673.4 761 L670.7 758.7 L667.5 757.5 L665.2 755.3 L663.1 752.9 L660 752.1 L657.5 750 L655.4 747.4 L653.7 744.5 L652.5 741.2 L650 738.8 L648.4 736.2 L647.2 733.5 L647.3 730.4 L646.2 727.5 L643.3 725.7 L640.6 723.6 L639.6 720.3 L637.5 717.5 L634.7 715.2 L633.2 711.8 L629.8 710.3 L627.5 707.5 L624.9 704.6 L621.2 703 L618.9 699.8 L617.5 696.2 L616.5 693.1 L614.4 690.7 L612 688.6 L610 686.2 L607.5 687 L575 687.5 L575 700.5 L557 700.5 L513.8 700 L436.2 668.8 L436.2 665.5 L386.2 668 L385.8 666.2 L384.6 664.7 L384.3 662.9 L383.8 661.2 L382.8 659 L381.4 657.1 L380.5 654.9 L380 652.5 L377.4 651.1 L375.7 648.6 L374.4 646 L372.5 643.8 L369.9 641.4 L366.9 639.3 L363.7 637.6 L360 637.5 L356.6 636.1 L353.8 633.7 L351.8 630.6 L350 627.5 L348.2 625.1 L345.6 623.8 L342.8 623.3 L340 622.5 L336.1 622.2 L332.3 621.6 L328.6 620.2 L325 618.8 L322.2 617.7 L319.8 615.7 L316.9 614.9 L313.8 615 L314 611.1 L312.8 607.3 L311.9 603.4 L310 600 L310 597.5 L309.1 597.2 L307 594.5 L305.5 591.4 L303.2 588.9 L301.3 586 L299.2 583 L296.4 580.7 L293.7 578.2 L292.3 574.8 L290.5 572 L288.1 569.7 L286.4 566.8 L285.6 563.6 L284.3 560.3 L284.6 556.7 L285.8 553.4 L286.7 550.1 L284.4 547.7 L281.3 546.6 L279.4 543.9 L276.6 542.2 L276.1 539.5 L276.2 536.8 L274.2 534.8 L273.2 532.2 L271.2 530.9 L269.1 529.5 L268 527.3 L266.5 525.4 L265.1 523.9 L264.2 522.1 L263 520.5 L262 518.7 L260.8 515.7 L259 512.9 L257.5 510 L255.3 507.5 L254.1 504.2 L252.4 501.2 L249.4 499.2 L247.4 496.3 L247.4 492.8 L248 489.5 L247.3 486.1 L246.3 482.8 L244.5 479.3 L242 476.3 L239.7 473.1 L238.5 469.3 L236.7 466.8 L235.5 464 L234.2 461.2 L234 458.1 L235.9 455 L237.6 451.8 L237.7 448.2 L238.5 444.7 L239.6 442 L239.3 439 L240 436.3 L240.7 433.5 L239.6 430.3 L237.6 427.6 L237.2 424.3 L236.2 421.1 L237.5 420 L236.6 418 L236.6 415.8 L235.2 414.2 L233.8 412.5 L234.3 409 L233.6 405.4 L233.1 401.9 L231.2 398.8 L231.4 396.3 L232 393.9 L233.1 391.7 L235 390 L236.5 383.6 L234.9 377.2 L237.1 371.2 L238.8 365 L240.7 358.8 L243.4 352.9 L244.2 346.4 L242.5 340 L242.6 337.4 L243.3 335 L244.2 332.6 L244.4 330 L244.2 327.2 L245.1 324.5 L244.3 321.8 L243.3 319.2 L242.7 309.8 L243.7 307.5 L244.4 305.1 L243.5 302.8 L243.3 300.4 L244.6 298 L246.2 295.7 L244 295.5 L242.1 294.5 L242.1 291 L244.3 289.4 L246.8 288.6 L245.1 288.1 L243.4 287.8 L241.9 286.9 L240.3 286.2 L239 285.1 L238.4 283.5 L237.8 282 L237.4 280.4 L236.6 278.3 L236.6 276.1 L235.6 274.2 L235 272.1 L233.8 270.3 L232.1 268.9 L231.3 266.9 L230.3 265 L228.8 264 L227.9 262.5 L227.3 260.9 L226.8 259.2 L226.8 251.5 L230.3 251.5 L232.3 252.4 L234.4 253.1 L236.6 253.3 L238.6 254.4 L241.6 254.8 L244.7 254.6 L247.5 255.6 L250.3 256.8 L259.8 257.4 L261.7 258 L263.5 259.1 L264.9 260.7 L266.8 261.5 L267 258.6 L267.1 255.7 L267.6 252.8 L268.5 250 L268.7 246.3 L267.6 242.8 L268.5 239.2 L267.4 235.6Z"/><path d="M1297.5 452.5 L1300.9 450.4 L1304.8 449.6 L1308.7 449.1 L1312.5 448 L1316.7 446.1 L1320.8 444 L1325.4 443.6 L1330 443.8 L1342 443.8 L1341.3 445.5 L1340 446.8 L1336.6 449.1 L1332.5 449.6 L1328.8 451.2 L1325 452.5 L1322.4 454.7 L1319.2 455.7 L1315.8 456.1 L1312.5 456.2 L1309 456.8 L1305.5 455.9 L1302.3 457.4 L1298.8 458 L1298.3 455.2Z"/>
<path d="M389.3 235.5 L389.2 313.8"/>
<path d="M245 310 L248.1 309.9 L251.2 309.3 L254.4 309.3 L257.5 308.8 L259.8 309.2 L261.7 310.6 L263.5 312.1 L265 313.8 L265.9 316.1 L267.4 317.9 L267.9 320.3 L268.8 322.5 L270.9 323.3 L273.1 324 L275.2 324.7 L277.5 325 L279.9 324 L282.3 323.1 L284.9 322.6 L287.5 323 L290.8 322.7 L293.9 323.8 L297.1 323.4 L300 322 L303.1 321.1 L306 319.6 L309.3 319.5 L312.5 320 L315.7 319.8 L318.7 318.4 L321.7 317.2 L325 317.5 L328.9 316.8 L332.2 314.5 L336.1 314.8 L340 315 L342.6 314.9 L344.9 313.5 L347.4 314.5 L350 314.2 L389.2 313.8 L391.6 314.8 L394 316.1 L396.1 317.7 L397.5 320 L398.4 322.4 L398.8 325 L398.1 327.6 L396.6 329.9 L395.5 332.4 L395 335 L395.1 337.8 L394.3 340.4 L392.4 342.5 L391.2 345 L390.1 347 L388.9 348.9 L387.5 350.6 L386.2 352.5 L386 354.4 L385.6 356.3 L385.8 358.2 L385 360 L387.4 361.5 L390 362.5 L388.9 364.2 L388.7 366.2 L388.8 368.1 L389.2 370 L389.2 420"/>
<path d="M235 420 L515.5 420"/>
<path d="M409.5 235.5 L409.5 260 L411.1 262.1 L413.1 263.8 L413.9 266.4 L415 268.8 L416 271.2 L416.5 273.7 L418.5 275.4 L420 277.5 L421.3 279.1 L422.8 280.4 L424.6 281.3 L426.2 282.5 L428 284.5 L429.6 286.6 L431.5 288.6 L433.8 290 L435.8 291 L437.5 292.5 L438.4 294.6 L440 296.2 L441.7 296.5 L443.2 297.3 L444.6 298.3 L446.2 298.8 L446.1 301 L445.3 303.1 L445.1 305.3 L445 307.5 L444.2 309.5 L442.8 311.1 L441.8 313 L441.2 315 L443 317.2 L443.8 320 L442.7 322.6 L441.2 325 L442.8 325.5 L444.1 326.4 L444.9 327.8 L446.2 328.8 L448.1 327.5 L449.2 325.5 L450.8 323.9 L452.5 322.5 L453.4 324 L454.9 325.1 L456.1 326.4 L457.5 327.5 L458.7 329.2 L460.1 330.9 L460.5 333 L461.2 335 L462.7 336.1 L463.6 337.8 L464 339.6 L465 341.2 L466.1 342.3 L466.9 343.7 L467.9 344.9 L468.8 346.2 L469.7 347.5 L471 348.4 L471.8 349.8 L472.5 351.2 L473.5 352.8 L475 354 L476 355.6 L476.2 357.5 L478.5 355.3 L481.6 354.4 L484.6 353.8 L487.5 352.5 L491.5 351.4 L495.5 350.2 L499.8 349.8 L503.8 351.2 L505.1 350.4 L506.3 349.3 L507.6 348.4 L508.8 347.5 L510.4 349 L512 350.6 L513.5 352.1 L515 353.8"/>
<path d="M515.3 341.3 L662.4 341.3"/>
<path d="M515.3 341.3 L515.3 446.5 L557.3 446.5"/>
<path d="M662.4 235.5 L662.4 446.5"/>
<path d="M557.3 446.5 L704 446.5 L704 552"/>
<path d="M557.3 446.5 L557.3 700.5"/>
<path d="M662.4 316 L819.5 316"/>
<path d="M662.4 394 L778.8 393.2 L781.8 394.7 L785 395.6 L787.3 398 L790 400 L793 398.9 L796.2 398.7 L799.5 398.6 L802.5 397.5 L805.2 398.9 L807.9 400.3 L810.8 400.7 L813.8 401.2 L815.6 401.6 L816.9 402.7 L818.3 403.8 L819.5 405"/>
<path d="M806.2 236.2 L806.3 240.5 L804.9 244.5 L807.2 248.2 L807.5 252.5 L812.5 270 L815 290 L815.7 293.3 L815.3 296.7 L817.6 299.3 L818.8 302.5 L819.5 315 L818.1 317.2 L816.3 319.2 L814.6 321.2 L813.8 323.8 L815.6 325.6 L817.9 326.4 L819.7 328 L821.2 330 L820.5 333.8 L821.5 337.5 L821.6 341.3 L822.5 345 L822.5 380 L821.2 381.6 L820.2 383.4 L820.3 385.5 L819.5 387.5 L819.5 405 L818.7 406.8 L818 408.6 L818.2 410.6 L818 412.5 L819.4 415.1 L821.7 417 L822.6 419.8 L823.8 422.5 L823.8 425.3 L824.5 427.9 L825.5 430.6 L827.5 432.5 L828.6 431.4 L829.4 430.1 L830.4 428.8 L831.2 427.5 L831.8 431.5 L834 434.8 L834.9 438.6 L835 442.5 L834 445.9 L834.6 449.4 L835.1 452.9 L836.2 456.2 L837.9 458.4 L840.2 460 L841.1 462.6 L842.5 465 L844.9 466.5 L846.4 468.9 L847.5 471.4 L848.8 473.8 L850.5 474.7 L852.3 474.9 L853.7 476.2 L855 477.5 L854.4 479.4 L853.7 481.2 L853 483.1 L852.5 485 L854.2 487.5 L855.3 490.2 L857.8 491.9 L860 493.8 L860.5 495.7 L861.2 497.5 L861.2 565"/>
<path d="M822.5 380 L932.5 380"/>
<path d="M704 473.5 L848.8 473"/>
<path d="M451.3 552 L861.3 552"/>
<path d="M684.8 552 L684.8 685 L607.5 683.8"/>
<path d="M684.8 566 L747.8 566 L747.5 615 L749.8 616.7 L752.3 617.9 L754.7 619.6 L757.5 620 L760.4 620.2 L762.9 621.7 L764.9 623.7 L767.5 625 L769.4 625 L771.3 625.3 L773.1 626 L775 626.2 L775 626.2 L777.5 627.3 L780.3 627.3 L782.7 628.6 L785 630 L787.6 631.3 L790.6 631.4 L792.7 633.3 L795 635 L798.3 635.5 L801.5 634.9 L804.3 636.6 L807.5 637.5 L810.8 637.2 L814 636.4 L817.3 635.9 L820 633.8 L823.3 634.1 L826.4 632.8 L829.4 634.1 L832.5 635 L836.2 633.8 L839.8 632.1 L843.6 631.3 L847.5 631.2 L850.4 633 L853.6 634.2 L856.8 635.2 L860 636.2 L861.4 636.8 L862.6 637.6 L863.7 638.7 L864.5 640 L866.7 641.1 L869.1 641.2 L871.4 641.5 L873.8 641.2 L873.8 682.5 L875.2 685.5 L875.6 688.8 L876.2 692 L877.5 695 L878.4 698.4 L880.8 700.9 L882.2 704.1 L882.5 707.5 L882.9 710.8 L881.6 713.9 L882.3 717.1 L883.8 720 L883 723.2 L882.4 726.4 L881.3 729.5 L880 732.5 L879.8 735.4 L879.3 738.3 L878 740.9 L877.5 743.8"/>
<path d="M451.3 420 L451.2 575 L449.6 576.6 L447.5 577.5 L445.5 577.1 L443.5 577 L441.6 576.3 L440 575 L439.3 576.4 L438.6 577.9 L437.4 579 L436.2 580 L437.5 601.2 L438.8 600 L441 602.8 L442.8 605.8 L443.3 609.3 L445 612.5 L447.2 614.8 L448.6 617.7 L450 620.6 L450 623.8 L449.2 626.4 L447.5 628.6 L445.1 630.1 L443.8 632.5 L442.4 634.9 L442.4 637.7 L441.7 640.3 L440 642.5 L439 644.2 L438 646 L437.5 648 L437.5 650 L438.8 652.2 L439.6 654.6 L441.4 656.5 L442.5 658.8 L441.1 660.7 L439 661.9 L438.1 664 L436.2 665.5"/>
<path d="M326.3 420 L326.2 498.8 L437.5 601.2"/>
<path d="M911.2 296.2 L911 300.3 L909.8 304.3 L910.3 308.5 L908.8 312.5 L906.7 313.9 L904.2 314.6 L902.3 316.3 L900 317.5 L899 319.4 L898.3 321.4 L896.8 322.9 L896.2 325 L896.7 327.1 L898.2 328.7 L898.6 330.8 L900 332.5 L900 345 L903.1 345.9 L905.5 348.1 L908.1 349.9 L910 352.5 L912 354.9 L914.3 357.1 L916.9 359.2 L920 360 L921.5 362.6 L923.5 364.8 L926.1 366.2 L928.8 367.5 L930.6 368.8 L931.5 370.8 L931.7 373 L932.5 375 L932.5 380 L932.8 382.7 L933.9 385.2 L935 387.6 L936.2 390 L936.7 392.6 L937.6 395.2 L938.3 397.8 L940 400 L941.9 401.6 L943.9 403.1 L945.2 405.2 L946.2 407.5 L946.7 409.8 L948.1 411.7 L949.8 413.1 L951.2 415 L952.5 416.6 L953.3 418.5 L953.8 420.5 L953.8 422.5 L953.8 422.5 L952.4 424.3 L950.8 425.9 L949.5 427.8 L948.8 430 L946.1 431.5 L943.4 433.1 L940.6 434.5 L937.5 435 L936.7 437.4 L935.9 439.9 L935 442.4 L935 445 L933.4 447.3 L931.9 449.6 L932.2 452.4 L931.2 455 L929.3 455.9 L928 457.5 L927.1 459.4 L926.2 461.2 L926 463.8 L926.9 466.2 L927.5 468.7 L927.5 471.2 L928.8 473.4 L930.6 475.3 L931.3 477.7 L932.5 480 L933.7 483 L935.8 485.4 L937.9 487.7 L940 490 L941.7 492.3 L942.7 494.9 L944.2 497.3 L945 500 L946.9 500.4 L948.8 501 L950.6 502 L952.5 502.5 L952.7 505 L952.8 507.5 L953.5 510 L953.8 512.5 L952.8 513.8 L951.7 514.9 L950.7 516.1 L950 517.5 L951.5 519.7 L953.5 521.5 L955.6 523.1 L957.5 525 L959.1 527.1 L961.2 528.8 L962.7 531.1 L965 532.5 L966.7 534.9 L968 537.5 L969.4 540.2 L971.2 542.5 L972.1 544.3 L972.6 546.1 L973 548.1 L972.5 550 L973.8 550.8 L974.9 552 L976.3 552.8 L977.5 553.8 L975.5 555.6 L973.7 557.7 L973 560.4 L971.2 562.5 L970.3 564.1 L968.8 565.1 L967.3 566.1 L966.2 567.5 L965.4 569.9 L965.6 572.5 L965.6 575 L965 577.5 L964.1 580.1 L962.3 582.2 L961.2 584.7 L961.2 587.5 L960.5 589.7 L958.9 591.4 L957.2 592.9 L956.2 595 L955.6 596.9 L954.3 598.5 L954 600.5 L953.8 602.5 L955 603.8 L953.9 605 L952.5 605.7 L951.3 606.6 L950 607.5 L948.4 609.2 L946.6 610.6 L945.5 612.7 L945 615 L943.1 617.1 L941.8 619.7 L940.8 622.3 L940 625 L938.5 626.7 L936.7 628.2 L935.9 630.4 L935 632.5 L935 635.1 L933.9 637.5 L933.2 640 L932.5 642.5 L932.8 644.5 L933.2 646.4 L934.4 648.1 L935 650 L934.9 651.8 L934.9 653.6 L934.7 655.4 L933.8 657 L934.8 659.7 L935 662.5 L936.2 665 L936.3 667.7 L938 669.9 L938.8 672.5 L938.2 674.5 L937.6 676.6 L936.7 678.6 L935 680 L933.8 681.7 L932.7 683.6 L931.7 685.4 L931.2 687.5 L929.6 689.7 L928.6 692.2 L928 694.9 L927.5 697.5 L926.7 700.4 L926.2 703.3 L925.5 706.3 L923.8 708.8 L963.8 710.5 L964.5 712.9 L965.7 715.1 L965.8 717.6 L966.2 720 L966.4 722.6 L966.5 725.1 L965.6 727.5 L965 730 L966 731.2 L967.3 732.2 L968.3 733.5 L968.8 735"/>
<path d="M946.2 407 L1005 407"/>
<path d="M951.2 301.2 L954.4 301.4 L957.4 302.5 L960.1 304.1 L962.5 306.2 L966 308.2 L969.5 310.3 L973.4 311.2 L977.5 311.2 L980.8 311.5 L984.1 311.8 L986.8 313.9 L990 315 L992 316.5 L994.4 317 L996.4 318.3 L998.8 318.8 L1000.2 320 L1000.9 321.8 L1001.5 323.5 L1002.5 325 L1003.7 326.6 L1003.9 328.6 L1003.6 330.6 L1003.8 332.5 L1006.2 333.6 L1008.8 333.8"/>
<path d="M836.2 456.2 L925 456.2 L925.7 458.2 L926.8 460.1 L927.5 462.1 L928.8 463.8"/>
<path d="M1010 425 L1010 485 L1009.2 488.1 L1008.7 491.2 L1007.5 494.3 L1007.5 497.5 L1005.3 500.1 L1004.4 503.4 L1004.3 506.7 L1003.8 510 L1002.4 512.3 L1000.7 514.6 L1000.6 517.3 L1000 520 L999.9 522.9 L999.9 525.9 L999.2 528.7 L997.5 531.2"/>
<path d="M977.5 553.8 L980.2 552.6 L982.6 550.8 L985.3 549.5 L987.5 547.5 L989.3 545.7 L991.4 544.3 L993.1 542.5 L993.8 540 L995.1 538 L995.8 535.7 L996.9 533.5 L997.5 531.2 L999.5 530.4 L1001.7 530.2 L1003.2 528.7 L1005 527.5 L1007.4 528.2 L1009.9 528.7 L1012.5 529.1 L1015 528.8 L1017.7 528.2 L1019.9 526.5 L1022.2 525.1 L1025 525 L1027.6 524.5 L1030.1 524.3 L1032.3 522.8 L1035 522.5 L1036.5 521.6 L1038.2 521.5 L1039.6 520.6 L1041.2 520 L1042.9 517.6 L1045.3 515.8 L1047.3 513.8 L1050 512.5 L1051.9 510.8 L1053.1 508.5 L1055 506.9 L1057.5 506.2 L1059.5 503.3 L1062.5 501.5 L1065.9 500.8 L1068.8 498.8 L1070.8 500.1 L1073.1 500.8 L1075.1 502.2 L1077.5 502.5 L1080.1 503.3 L1082.5 504.3 L1085.1 505.1 L1087.5 506.2 L1090.1 506.7 L1092.7 506.9 L1094.8 508.4 L1097.5 508.8 L1100.1 508.5 L1102.5 507.5 L1105.1 507.4 L1107.5 506.2 L1108.9 508.6 L1110.6 510.6 L1112.8 512.3 L1115 513.8 L1116.1 510.5 L1117.6 507.4 L1120.5 505.4 L1122.5 502.5 L1124.5 501.4 L1126.2 499.9 L1127.9 498.5 L1130 497.5 L1132.3 495.1 L1135.2 493.4 L1137.9 491.4 L1140 488.8 L1142.4 486 L1145.8 484.6 L1148.2 481.9 L1150 478.8 L1151.1 476.2 L1150.8 473.4 L1151.9 470.9 L1153.8 468.8 L1154.1 466.5 L1153.6 464.3 L1154.4 462.2 L1155 460 L1155.6 458.5 L1156.3 457 L1157.7 456.2 L1158.8 455"/>
<path d="M1068.8 498.8 L1068.8 427.5"/>
<path d="M1027.5 427.5 L1068.8 427.5 L1097.5 430"/>
<path d="M1158.8 418.8 L1158.8 481 L1260 480.5 L1261.9 480.1 L1263.8 479.5 L1265.1 481.2 L1266.2 483"/>
<path d="M1180 481 L1180 490 L1182.2 488.2 L1184.6 486.7 L1187.2 485.4 L1190 485 L1192.5 484 L1194.9 482.8 L1197.5 482.2 L1200 481.2 L1201.9 481.1 L1203.8 481.4 L1205.8 481.6 L1207.5 482.5 L1209.4 483.2 L1211 484.4 L1213 485.1 L1215 485 L1217.8 485.4 L1220.1 487.1 L1222 489.1 L1223.8 491.2 L1224.6 492.9 L1225.8 494.3 L1226.3 496.1 L1227.5 497.5"/>
<path d="M1115 513.8 L1114.3 515.9 L1114.5 518.2 L1114.7 520.4 L1113.8 522.5 L1115.1 525.3 L1117.5 527.1 L1118.5 529.9 L1120 532.5 L1122.5 534.5 L1124.7 536.8 L1125.5 539.9 L1127.5 542.5 L1129.6 542.9 L1131.3 544.2 L1133 545.6 L1135 546.2 L1138.6 544.2 L1141.9 541.7 L1146 541.1 L1150 540 L1153.4 539.4 L1156.2 537.4 L1159.1 535.7 L1162.5 535 L1163.4 532.3 L1165.3 530.1 L1167 527.8 L1167.5 525 L1168.9 522.2 L1170.3 519.3 L1173 517.6 L1175 515 L1176.9 513.7 L1179.2 513.2 L1181.2 511.9 L1182.5 510 L1184 507.6 L1185.9 505.4 L1187.1 502.8 L1187.5 500 L1188.9 498.2 L1190.9 497 L1192.8 495.6 L1195 495 L1196.4 493.2 L1197.1 491 L1198.5 489.2 L1200 487.5 L1202.1 489.2 L1204.7 490 L1207.3 489.6 L1210 490 L1210.9 488.4 L1212.4 487.4 L1213.8 486.3 L1215 485"/>
<path d="M1135 546.2 L1132.8 548.3 L1130.2 549.7 L1127.8 551.5 L1125 552.5 L1121.1 552.3 L1117.2 552.4 L1113.4 553.6 L1110 555.5 L1107.5 557 L1104.9 558.2 L1102.3 559.4 L1100 561.2 L1097.5 561.8 L1095 562.5"/>
<path d="M971.2 563 L998.8 562.5 L1000 560 L1095 562 L1135 563 L1250 563 L1256.2 562.5"/>
<path d="M1135 563.8 L1133.9 565.6 L1133.2 567.5 L1131.9 569.1 L1130 570 L1128 571.7 L1126.3 573.8 L1124.1 575.4 L1122.5 577.5 L1120 579.4 L1117.6 581.4 L1115.5 583.8 L1112.5 585 L1109.5 586.6 L1106.3 587.7 L1103 588.3 L1100 590 L1097.3 590.9 L1094.9 592.4 L1092.5 593.8 L1090 595 L1087.4 596.3 L1085.4 598.3 L1082.6 598.7 L1080 600 L1078.9 602.3 L1077.5 604.5"/>
<path d="M953.8 604.2 L1100 604.5"/>
<path d="M861.2 565 L953.8 565 L954.9 566.4 L956 567.9 L957.1 569.4 L957.5 571.2 L956.4 573.2 L954.6 574.6 L953.3 576.5 L951.2 577.5 L962.5 578"/>
<path d="M861.2 565 L862.5 590 L862.6 592.6 L862.5 595.2 L863.4 597.6 L864.5 600 L864.5 640"/>
<path d="M873.8 657 L933.8 657"/>
<path d="M997 603.8 L992.5 675 L992.5 725"/>
<path d="M1051.2 603.8 L1060 662.5 L1062.3 665.9 L1064.2 669.4 L1065.4 673.4 L1065 677.5 L1063.8 681.8 L1062.6 686.1 L1063.6 690.6 L1062.5 695 L1062.5 709.5 L1063.3 711.2 L1064.5 712.6 L1065.1 714.3 L1065 716.2 L1122.5 721.2 L1122.5 722.8 L1122.8 724.4 L1123.3 726 L1123.8 727.5 L1125.5 724.6 L1126.8 721.6 L1127.3 718.3 L1127.5 715 L1129.7 714.9 L1131.9 715.4 L1134.1 715.4 L1136.2 716.2"/>
<path d="M1062.5 709.5 L1007.5 709.5 L1008.4 711.4 L1008.8 713.5 L1009.2 715.5 L1010 717.5 L1010.9 719 L1011.7 720.5 L1011.7 722.2 L1012.5 723.8"/>
<path d="M1100 604.5 L1110 620 L1112.9 622.8 L1115.8 625.6 L1118.5 628.7 L1120 632.5 L1122.5 635.8 L1124 639.6 L1126.9 642.4 L1130 645 L1131.4 648.5 L1132.4 652.1 L1134.3 655.4 L1137.5 657.5 L1138.4 660.2 L1139.4 662.8 L1140.8 665.3 L1142.5 667.5 L1144.5 670 L1146 672.7 L1147.4 675.6 L1150 677.5"/>
<path d="M1100 604.5 L1104 603.4 L1108.1 604.1 L1111.8 602.5 L1115 600 L1145 600 L1146.5 602.3 L1148.8 603.7 L1150.7 605.5 L1152.5 607.5 L1177.5 608.8 L1200 635"/>
<path d="M1175 412.5 L1175 420 L1266.2 420 L1266.2 420 L1267.3 422.3 L1269.1 423.9 L1270.9 425.7 L1272.5 427.5 L1273.2 430.5 L1275.1 432.8 L1276.9 435.2 L1278.8 437.5 L1276.6 439.6 L1275 442.1 L1273.3 444.6 L1272.5 447.5 L1274.1 449.6 L1275 452.2 L1274.3 454.9 L1275 457.5 L1276.3 459.4 L1277 461.6 L1278.3 463.5 L1280 465 L1279.2 467.2 L1278.1 469.2 L1276.6 470.9 L1275 472.5 L1273.6 474.3 L1271.6 475.5 L1269.5 476.5 L1267.5 477.5 L1266.3 478.7 L1264.8 479.6 L1263.6 480.7 L1262.5 482"/>
<path d="M1278.8 437.5 L1297.5 447.5"/>
<path d="M1258.2 480.5 L1258.2 514.5 L1273.8 514.5"/>
<path d="M1256.2 526.2 L1259.7 526.8 L1263.2 527.3 L1266.6 526.1 L1270 525"/>
<path d="M1307.5 340 L1306.2 365 L1307.8 368 L1309.6 370.8 L1310.6 374.1 L1310 377.5 L1310.6 390 L1310 400.2 L1308.2 404.1 L1308.4 408.4 L1308.1 412.7 L1306.9 416.7 L1306.1 418.2 L1305.5 419.7 L1305.3 421.4 L1305.7 423 L1304.9 433.9 L1305 436.6 L1305.8 439.1 L1304.9 441.6 L1304.1 444.1 L1301.8 445.1"/>
<path d="M1347.5 339.2 L1347 343.3 L1345.3 347 L1344.3 351 L1343.8 355 L1341.8 357 L1339.1 357.9 L1337.7 360.2 L1336.2 362.5 L1330 380 L1325 400.5"/>
<path d="M1357.5 332.5 L1360 365 L1362 385 L1362.4 386.9 L1363.5 388.5 L1363.3 390.4 L1364 392.2"/>
<path d="M1310 400.2 L1353.6 400.8 L1354.9 399.9 L1356.1 398.9 L1357.5 398 L1359 397.5 L1364.5 397.2"/>
<path d="M1306.9 417.9 L1342.2 418.2 L1342.2 436.4"/>
<path d="M1342.2 418.2 L1350 418.4 L1350.5 420.9 L1352 423 L1352.8 427.7 L1352.6 430.4 L1351.6 432.8"/>
<path d="M948.4 731.4 L950.6 726.9 L955.1 725.6 L959.6 727.8 L962.3 731.4 L959.6 734.5 L953.3 735 L949.7 734.1Z"/>
<g stroke-width="4.2">
<path d="M1253.3 483.3 L1252.2 485 L1250.6 486.3 L1249.3 487.9 L1247.6 489 L1246.9 491.4 L1246.8 494 L1246.1 496.4 L1244.8 498.6 L1244.9 501 L1245.5 503.3 L1245.6 505.7 L1245.7 508.1 L1245.8 510.1 L1245.8 512.1 L1246.8 513.9 L1247.6 515.7 L1248.5 517.6 L1248.8 519.6 L1249.3 521.6 L1250.5 523.3 L1251.4 525.1 L1252.2 527.1 L1252.5 529.1 L1253.3 531 L1253.8 533.4 L1254.7 535.7 L1254 538 L1254.3 540.5 L1254.9 551.9"/>
<path d="M1254.3 484.3 L1255 485.9 L1255.6 487.5 L1255.3 489.3 L1255.6 491 L1254.5 492.7 L1253.9 494.7 L1253.5 496.6 L1253 498.6 L1252.8 501 L1252.7 503.4 L1253.8 505.6 L1253.9 508.1 L1255.1 509.6 L1255.6 511.4 L1256 513.3 L1257.1 514.8 L1256.8 521.4 L1256.9 522.9 L1256.8 524.4 L1257.6 525.7 L1258.1 527.1 L1257.9 529.1 L1257.1 530.9 L1257.4 532.8 L1257.1 534.8 L1257.8 536.6 L1258.2 538.5 L1258 540.5 L1258.1 542.4 L1257.4 544.6 L1256.1 546.5 L1255.6 548.7 L1256.2 551"/>
<path d="M1224.8 494.8 L1226.5 496.5 L1227.5 498.7 L1228.5 500.9 L1230.5 502.4 L1229.3 503.6 L1228 504.8 L1227.2 506.4 L1226.7 508.1 L1226.6 511 L1225.7 513.8 L1227.6 514.3 L1229.3 515.2 L1230.7 516.6 L1232.4 517.6 L1234.2 519.3 L1236.6 519.9 L1238.7 521.2 L1240 523.3 L1242 523 L1244 523.6 L1245.7 524.7 L1247.6 525.2"/>
<path d="M1232.4 525.2 L1234 526 L1235.6 526.6 L1237.1 527.6 L1238.1 529 L1239.3 530.7 L1240.6 532.2 L1242.3 533.4 L1243.8 534.8 L1245.3 535.4 L1246.8 535.9 L1248.4 535.9 L1249.9 536.7"/>
<path d="M1234.3 534.8 L1235.5 536.1 L1236.7 537.4 L1238.3 538.2 L1240 538.6 L1241.5 539.8 L1242.6 541.3 L1244.4 542 L1245.7 543.3 L1248.5 544 L1251.4 544.3"/>
<path d="M1231.4 545.2 L1234.1 546.4 L1237.1 546.2 L1239.2 548.1 L1241.9 549 L1243.6 549.5 L1245.1 550.4 L1246.9 550.5 L1248.6 551 L1249.9 551.9 L1251.3 552.3 L1252.9 552.2 L1254.3 552.9"/>
<path d="M1237.1 569 L1237.9 571.1 L1238.3 573.2 L1239.4 575.2 L1241 576.7 L1242.8 576 L1244.7 575.6 L1246.4 574.4 L1247.6 572.9 L1249.3 573.5 L1250.6 574.6 L1252 575.5 L1253.3 576.7 L1254.3 578.1 L1254.8 579.8 L1255.9 581.2 L1257.1 582.4 L1256.2 583.6 L1254.9 584.5 L1253.7 585.4 L1252.4 586.2 L1253.9 587.5 L1255.4 588.9 L1256.5 590.7 L1258.1 591.9"/>
<path d="M1241 576.7 L1238.9 576.8 L1237 577.7 L1235.4 579.1 L1233.3 579.5"/>
<path d="M1231.4 591.9 L1233.1 592.2 L1234.9 592.4 L1236.3 593.5 L1238.1 593.8 L1240 593.5 L1242 593.2 L1243.8 592.3 L1245.7 591.9 L1244.8 593.8 L1245 596 L1243.7 597.6 L1242.9 599.5 L1240.3 600.2 L1237.8 601.1 L1235.1 601 L1232.4 601.4 L1234.5 603.1 L1236.1 605.2 L1238.6 605.9 L1241 607.1 L1243.2 605.8 L1245.7 605.2 L1244.1 606.5 L1243.2 608.4 L1241.9 610 L1241 611.9 L1237.9 612.5 L1234.7 612.6 L1231.5 612.5 L1228.6 611 L1227.3 611.8 L1225.9 612.6 L1224.5 613.2 L1222.9 613.2"/>
</g>
</g>
<text class="lt" x="1486.8" y="322.8">Earliest</text><text class="lt" x="1486.8" y="350.6">date of 3rd</text><text class="lt" x="1486.8" y="378.4">gen. larval</text><text class="lt" x="1486.8" y="406.3">development</text>
<rect x="1487.3" y="421.20" width="24.6" height="25.73" fill="#4D4D4D"/>
<text class="ll" x="1523.1" y="441.60">excl.-sev.</text>
<rect x="1487.3" y="446.63" width="24.6" height="25.73" fill="#CCFF00"/>
<text class="ll" x="1523.1" y="467.03">Apr-24</text>
<rect x="1487.3" y="472.06" width="24.6" height="25.73" fill="#FFFF00"/>
<text class="ll" x="1523.1" y="492.46">May-01</text>
<rect x="1487.3" y="497.49" width="24.6" height="25.73" fill="#DDD900"/>
<text class="ll" x="1523.1" y="517.89">May-08</text>
<rect x="1487.3" y="522.92" width="24.6" height="25.73" fill="#BBAD00"/>
<text class="ll" x="1523.1" y="543.32">May-15</text>
<rect x="1487.3" y="548.35" width="24.6" height="25.73" fill="#9A8708"/>
<text class="ll" x="1523.1" y="568.75">May-22</text>
<rect x="1487.3" y="573.78" width="24.6" height="25.73" fill="#7A6008"/>
<text class="ll" x="1523.1" y="594.18">May-29</text>
<rect x="1487.3" y="599.21" width="24.6" height="25.73" fill="#FDD78D"/>
<text class="ll" x="1523.1" y="619.61">Jun-05</text>
<rect x="1487.3" y="624.64" width="24.6" height="25.73" fill="#FDBF6F"/>
<text class="ll" x="1523.1" y="645.04">Jun-12</text>
<rect x="1487.3" y="650.07" width="24.6" height="25.73" fill="#FDAA52"/>
<text class="ll" x="1523.1" y="670.47">Jun-19</text>
<rect x="1487.3" y="675.50" width="24.6" height="25.73" fill="#FD9431"/>
<text class="ll" x="1523.1" y="695.90">Jun-26</text>
<rect x="1487.3" y="700.93" width="24.6" height="25.73" fill="#F4CCCC"/>
<text class="ll" x="1523.1" y="721.33">Jul-03</text>
<rect x="1487.3" y="726.36" width="24.6" height="25.73" fill="#F59999"/>
<text class="ll" x="1523.1" y="746.76">Jul-10</text>
<rect x="1487.3" y="751.79" width="24.6" height="25.73" fill="#F66666"/>
<text class="ll" x="1523.1" y="772.19">Jul-17</text>
<rect x="1487.3" y="777.22" width="24.6" height="25.73" fill="#FB3333"/>
<text class="ll" x="1523.1" y="797.62">Jul-24</text>
<rect x="1635.1" y="421.20" width="24.9" height="25.73" fill="#FF0000"/>
<text class="ll" x="1671.3" y="441.60">Jul-31</text>
<rect x="1635.1" y="446.63" width="24.9" height="25.73" fill="#E8B8B0"/>
<text class="ll" x="1671.3" y="467.03">Aug-07</text>
<rect x="1635.1" y="472.06" width="24.9" height="25.73" fill="#CC9088"/>
<text class="ll" x="1671.3" y="492.46">Aug-14</text>
<rect x="1635.1" y="497.49" width="24.9" height="25.73" fill="#B3685C"/>
<text class="ll" x="1671.3" y="517.89">Aug-21</text>
<rect x="1635.1" y="522.92" width="24.9" height="25.73" fill="#9A4434"/>
<text class="ll" x="1671.3" y="543.32">Aug-28</text>
<rect x="1635.1" y="548.35" width="24.9" height="25.73" fill="#FFB3DE"/>
<text class="ll" x="1671.3" y="568.75">Sep-04</text>
<rect x="1635.1" y="573.78" width="24.9" height="25.73" fill="#FF85E5"/>
<text class="ll" x="1671.3" y="594.18">Sep-11</text>
<rect x="1635.1" y="599.21" width="24.9" height="25.73" fill="#FF57EC"/>
<text class="ll" x="1671.3" y="619.61">Sep-18</text>
<rect x="1635.1" y="624.64" width="24.9" height="25.73" fill="#FF29F3"/>
<text class="ll" x="1671.3" y="645.04">Sep-25</text>
<rect x="1635.1" y="650.07" width="24.9" height="25.73" fill="#E1BEE7"/>
<text class="ll" x="1671.3" y="670.47">Oct-02</text>
<rect x="1635.1" y="675.50" width="24.9" height="25.73" fill="#C796D6"/>
<text class="ll" x="1671.3" y="695.90">Oct-09</text>
<rect x="1635.1" y="700.93" width="24.9" height="25.73" fill="#B06EC6"/>
<text class="ll" x="1671.3" y="721.33">Oct-16</text>
<rect x="1635.1" y="726.36" width="24.9" height="25.73" fill="#9C47B5"/>
<text class="ll" x="1671.3" y="746.76">Oct-23</text>
<rect x="1635.1" y="751.79" width="24.9" height="25.73" fill="#8A22A8"/>
<text class="ll" x="1671.3" y="772.19">Oct-30</text>
<rect x="1635.1" y="777.22" width="24.9" height="25.73" fill="#B3EBFD"/>
<text class="ll" x="1671.3" y="797.62">Nov-06</text>
<rect x="1759.1" y="421.20" width="25.7" height="25.73" fill="#87D5F1"/>
<text class="ll" x="1796.4" y="441.60">Nov-13</text>
<rect x="1759.1" y="446.63" width="25.7" height="25.73" fill="#5BBAE5"/>
<text class="ll" x="1796.4" y="467.03">Nov-20</text>
<rect x="1759.1" y="472.06" width="25.7" height="25.73" fill="#2CA3DA"/>
<text class="ll" x="1796.4" y="492.46">Nov-27</text>
<rect x="1759.1" y="497.49" width="25.7" height="25.73" fill="#A2C4E8"/>
<text class="ll" x="1796.4" y="517.89">Dec-04</text>
<rect x="1759.1" y="522.92" width="25.7" height="25.73" fill="#7A90E9"/>
<text class="ll" x="1796.4" y="543.32">Dec-11</text>
<rect x="1759.1" y="548.35" width="25.7" height="25.73" fill="#525EF0"/>
<text class="ll" x="1796.4" y="568.75">Dec-18</text>
<rect x="1759.1" y="573.78" width="25.7" height="25.73" fill="#2A2CF8"/>
<text class="ll" x="1796.4" y="594.18">Dec-26</text>
</svg></body></html>
